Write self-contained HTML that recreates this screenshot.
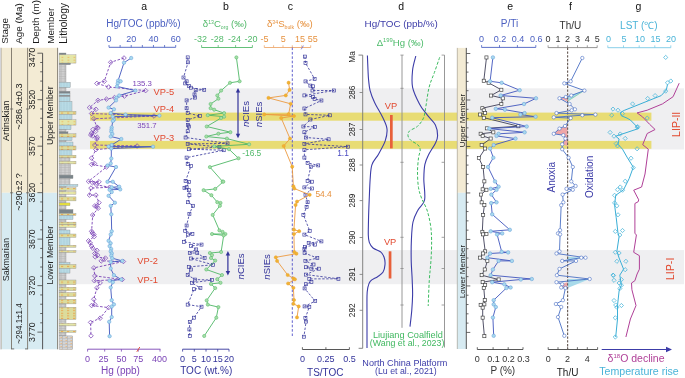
<!DOCTYPE html>
<html><head><meta charset="utf-8"><style>
html,body{margin:0;padding:0;background:#fff;}
body{width:685px;height:378px;overflow:hidden;}
svg{display:block;will-change:transform;}
</style></head><body>
<svg width="685" height="378" viewBox="0 0 685 378" font-family='"Liberation Sans", sans-serif'>
<rect x="0" y="0" width="685" height="378" fill="#fff" />
<rect x="58.5" y="88.3" width="625.5" height="61.2" fill="#efeff1" />
<rect x="58.5" y="250.1" width="625.5" height="34.1" fill="#efeff1" />
<rect x="90" y="112.6" width="561.4" height="8.1" fill="#e8dc74" />
<rect x="90" y="140.9" width="561.4" height="7.9" fill="#e8dc74" />
<rect x="0" y="47.8" width="57.7" height="145.0" fill="#f3ebd4" />
<rect x="0" y="192.8" width="57.7" height="156.5" fill="#d7ebf2" />
<rect x="0" y="47.8" width="1.1" height="301.5" fill="#d4d4d8" />
<line x1="1.5" y1="47.8" x2="1.5" y2="349.3" stroke="#b8b0a0" stroke-width="0.6" />
<line x1="11.5" y1="47.8" x2="11.5" y2="349.3" stroke="#7a7468" stroke-width="0.9" />
<line x1="27.6" y1="47.8" x2="27.6" y2="349.3" stroke="#7a7468" stroke-width="0.9" />
<line x1="57.6" y1="47.8" x2="57.6" y2="349.3" stroke="#7a7468" stroke-width="0.9" />
<line x1="42.6" y1="53.2" x2="42.6" y2="349.3" stroke="#444" stroke-width="0.9" />
<line x1="37.4" y1="53.2" x2="42.6" y2="53.2" stroke="#444" stroke-width="0.8" />
<line x1="40.2" y1="62.497" x2="42.6" y2="62.497" stroke="#444" stroke-width="0.8" />
<line x1="40.2" y1="71.79400000000001" x2="42.6" y2="71.79400000000001" stroke="#444" stroke-width="0.8" />
<line x1="40.2" y1="81.09100000000001" x2="42.6" y2="81.09100000000001" stroke="#444" stroke-width="0.8" />
<line x1="40.2" y1="90.388" x2="42.6" y2="90.388" stroke="#444" stroke-width="0.8" />
<line x1="37.4" y1="99.685" x2="42.6" y2="99.685" stroke="#444" stroke-width="0.8" />
<line x1="40.2" y1="108.982" x2="42.6" y2="108.982" stroke="#444" stroke-width="0.8" />
<line x1="40.2" y1="118.27900000000001" x2="42.6" y2="118.27900000000001" stroke="#444" stroke-width="0.8" />
<line x1="40.2" y1="127.57600000000001" x2="42.6" y2="127.57600000000001" stroke="#444" stroke-width="0.8" />
<line x1="40.2" y1="136.873" x2="42.6" y2="136.873" stroke="#444" stroke-width="0.8" />
<line x1="37.4" y1="146.17000000000002" x2="42.6" y2="146.17000000000002" stroke="#444" stroke-width="0.8" />
<line x1="40.2" y1="155.467" x2="42.6" y2="155.467" stroke="#444" stroke-width="0.8" />
<line x1="40.2" y1="164.764" x2="42.6" y2="164.764" stroke="#444" stroke-width="0.8" />
<line x1="40.2" y1="174.061" x2="42.6" y2="174.061" stroke="#444" stroke-width="0.8" />
<line x1="40.2" y1="183.358" x2="42.6" y2="183.358" stroke="#444" stroke-width="0.8" />
<line x1="37.4" y1="192.65500000000003" x2="42.6" y2="192.65500000000003" stroke="#444" stroke-width="0.8" />
<line x1="40.2" y1="201.952" x2="42.6" y2="201.952" stroke="#444" stroke-width="0.8" />
<line x1="40.2" y1="211.24900000000002" x2="42.6" y2="211.24900000000002" stroke="#444" stroke-width="0.8" />
<line x1="40.2" y1="220.546" x2="42.6" y2="220.546" stroke="#444" stroke-width="0.8" />
<line x1="40.2" y1="229.84300000000002" x2="42.6" y2="229.84300000000002" stroke="#444" stroke-width="0.8" />
<line x1="37.4" y1="239.14" x2="42.6" y2="239.14" stroke="#444" stroke-width="0.8" />
<line x1="40.2" y1="248.437" x2="42.6" y2="248.437" stroke="#444" stroke-width="0.8" />
<line x1="40.2" y1="257.73400000000004" x2="42.6" y2="257.73400000000004" stroke="#444" stroke-width="0.8" />
<line x1="40.2" y1="267.031" x2="42.6" y2="267.031" stroke="#444" stroke-width="0.8" />
<line x1="40.2" y1="276.32800000000003" x2="42.6" y2="276.32800000000003" stroke="#444" stroke-width="0.8" />
<line x1="37.4" y1="285.625" x2="42.6" y2="285.625" stroke="#444" stroke-width="0.8" />
<line x1="40.2" y1="294.922" x2="42.6" y2="294.922" stroke="#444" stroke-width="0.8" />
<line x1="40.2" y1="304.219" x2="42.6" y2="304.219" stroke="#444" stroke-width="0.8" />
<line x1="40.2" y1="313.516" x2="42.6" y2="313.516" stroke="#444" stroke-width="0.8" />
<line x1="40.2" y1="322.813" x2="42.6" y2="322.813" stroke="#444" stroke-width="0.8" />
<line x1="37.4" y1="332.11" x2="42.6" y2="332.11" stroke="#444" stroke-width="0.8" />
<line x1="10.0" y1="109.0" x2="13.2" y2="109.0" stroke="#555" stroke-width="0.7" />
<line x1="26.0" y1="109.0" x2="29.2" y2="109.0" stroke="#555" stroke-width="0.7" />
<line x1="10.0" y1="192.8" x2="13.2" y2="192.8" stroke="#555" stroke-width="0.7" />
<line x1="26.0" y1="192.8" x2="29.2" y2="192.8" stroke="#555" stroke-width="0.7" />
<line x1="11.5" y1="348.9" x2="14.2" y2="348.9" stroke="#555" stroke-width="0.8" />
<line x1="25.0" y1="348.9" x2="27.6" y2="348.9" stroke="#555" stroke-width="0.8" />
<text transform="translate(8.2,43.8) rotate(-90)" font-size="9.85" fill="#1a1a1a" text-anchor="start" >Stage</text>
<text transform="translate(22.0,43.8) rotate(-90)" font-size="9.85" fill="#1a1a1a" text-anchor="start" >Age (Ma)</text>
<text transform="translate(39.4,43.8) rotate(-90)" font-size="9.85" fill="#1a1a1a" text-anchor="start" >Depth (m)</text>
<text transform="translate(53.8,43.8) rotate(-90)" font-size="9.85" fill="#1a1a1a" text-anchor="start" >Member</text>
<text transform="translate(67.2,43.8) rotate(-90)" font-size="10.2" fill="#1a1a1a" text-anchor="start" >Lithology</text>
<text transform="translate(35.2,57.4) rotate(-90)" font-size="8.8" fill="#222" text-anchor="middle" >3470</text>
<text transform="translate(35.2,99.6) rotate(-90)" font-size="8.8" fill="#222" text-anchor="middle" >3520</text>
<text transform="translate(35.2,146.1) rotate(-90)" font-size="8.8" fill="#222" text-anchor="middle" >3570</text>
<text transform="translate(35.2,192.6) rotate(-90)" font-size="8.8" fill="#222" text-anchor="middle" >3620</text>
<text transform="translate(35.2,239.1) rotate(-90)" font-size="8.8" fill="#222" text-anchor="middle" >3670</text>
<text transform="translate(35.2,285.6) rotate(-90)" font-size="8.8" fill="#222" text-anchor="middle" >3720</text>
<text transform="translate(35.2,332.1) rotate(-90)" font-size="8.8" fill="#222" text-anchor="middle" >3770</text>
<text transform="translate(9.3,120.8) rotate(-90)" font-size="9.4" fill="#222" text-anchor="middle" textLength="40.5" lengthAdjust="spacingAndGlyphs">Artinskian</text>
<text transform="translate(9.3,259.7) rotate(-90)" font-size="9.4" fill="#222" text-anchor="middle" textLength="43.3" lengthAdjust="spacingAndGlyphs">Sakmarian</text>
<text transform="translate(22.0,106.5) rotate(-90)" font-size="9.2" fill="#222" text-anchor="middle" textLength="46.3" lengthAdjust="spacingAndGlyphs">~286.4±0.3</text>
<text transform="translate(22.0,191.9) rotate(-90)" font-size="9.2" fill="#222" text-anchor="middle" textLength="37.5" lengthAdjust="spacingAndGlyphs">~290±2 ?</text>
<text transform="translate(22.0,323.5) rotate(-90)" font-size="9.2" fill="#222" text-anchor="middle" textLength="40.4" lengthAdjust="spacingAndGlyphs">~294.1±1.4</text>
<text transform="translate(53.4,115.7) rotate(-90)" font-size="8.8" fill="#222" text-anchor="middle" >Upper Member</text>
<text transform="translate(53.4,255.2) rotate(-90)" font-size="8.8" fill="#222" text-anchor="middle" >Lower Member</text>
<defs><pattern id="pg" width="4" height="2.4" patternUnits="userSpaceOnUse"><rect width="4" height="2.4" fill="#cfcfcf"/><path d="M0,2.2H4M1,0V2.2" stroke="#a9a9a9" stroke-width="0.5"/></pattern><pattern id="po" width="6" height="2.6" patternUnits="userSpaceOnUse"><rect width="6" height="2.6" fill="#dcdc9c"/><rect x="1" y="0.7" width="2.2" height="1.1" fill="#e8ac58"/></pattern><pattern id="pc" width="5" height="3" patternUnits="userSpaceOnUse"><rect width="5" height="3" fill="#d4d4d4"/><path d="M0,2.8H5M2.5,0V2.8" stroke="#a8a8a8" stroke-width="0.5"/><rect x="0.6" y="1" width="1.2" height="0.9" fill="#eab070"/></pattern><pattern id="py" width="6" height="2.8" patternUnits="userSpaceOnUse"><rect width="6" height="2.8" fill="#e4e6a8"/><rect x="1.5" y="0.8" width="1.8" height="1" fill="#eebc6a"/></pattern><pattern id="pb" width="3" height="2" patternUnits="userSpaceOnUse"><rect width="3" height="2" fill="#b8dbe5"/><circle cx="1" cy="1" r="0.45" fill="#8ab4c2"/></pattern></defs>
<rect x="59.1" y="53.0" width="6.9" height="1.8" fill="#7b858a" stroke="#8a8a8a" stroke-width="0.35"/>
<rect x="59.1" y="54.8" width="16.9" height="8.3" fill="url(#py)" stroke="#8a8a8a" stroke-width="0.35"/>
<rect x="59.1" y="63.1" width="11.4" height="1.6" fill="#7b858a" stroke="#8a8a8a" stroke-width="0.35"/>
<rect x="59.1" y="64.7" width="6.9" height="17.5" fill="url(#pg)" stroke="#8a8a8a" stroke-width="0.35"/>
<rect x="59.1" y="82.2" width="11.2" height="5.6" fill="url(#pb)" stroke="#8a8a8a" stroke-width="0.35"/>
<rect x="59.1" y="87.8" width="6.9" height="3.5" fill="url(#pg)" stroke="#8a8a8a" stroke-width="0.35"/>
<rect x="59.1" y="91.3" width="10.9" height="2.0" fill="#7b858a" stroke="#8a8a8a" stroke-width="0.35"/>
<rect x="59.1" y="93.3" width="10.9" height="2.0" fill="url(#pb)" stroke="#8a8a8a" stroke-width="0.35"/>
<rect x="59.1" y="95.3" width="10.9" height="1.3" fill="#7b858a" stroke="#8a8a8a" stroke-width="0.35"/>
<rect x="59.1" y="96.6" width="10.9" height="4.7" fill="url(#pb)" stroke="#8a8a8a" stroke-width="0.35"/>
<rect x="59.1" y="101.3" width="12.9" height="9.9" fill="url(#pb)" stroke="#8a8a8a" stroke-width="0.35"/>
<rect x="59.1" y="111.2" width="16.9" height="3.3" fill="url(#po)" stroke="#8a8a8a" stroke-width="0.35"/>
<rect x="59.1" y="114.5" width="12.9" height="5.3" fill="url(#pb)" stroke="#8a8a8a" stroke-width="0.35"/>
<rect x="59.1" y="119.8" width="16.9" height="5.3" fill="url(#py)" stroke="#8a8a8a" stroke-width="0.35"/>
<rect x="59.1" y="125.1" width="11.9" height="4.7" fill="url(#pb)" stroke="#8a8a8a" stroke-width="0.35"/>
<rect x="59.1" y="129.8" width="6.9" height="2.0" fill="url(#pg)" stroke="#8a8a8a" stroke-width="0.35"/>
<rect x="59.1" y="131.8" width="8.9" height="2.0" fill="#7b858a" stroke="#8a8a8a" stroke-width="0.35"/>
<rect x="59.1" y="133.8" width="16.9" height="3.3" fill="url(#po)" stroke="#8a8a8a" stroke-width="0.35"/>
<rect x="59.1" y="137.1" width="12.9" height="3.6" fill="url(#pb)" stroke="#8a8a8a" stroke-width="0.35"/>
<rect x="59.1" y="140.7" width="6.9" height="1.3" fill="url(#pg)" stroke="#8a8a8a" stroke-width="0.35"/>
<rect x="59.1" y="142" width="13.9" height="4.0" fill="url(#pb)" stroke="#8a8a8a" stroke-width="0.35"/>
<rect x="59.1" y="146" width="16.9" height="4.0" fill="url(#po)" stroke="#8a8a8a" stroke-width="0.35"/>
<rect x="59.1" y="150" width="12.9" height="5.2" fill="url(#pb)" stroke="#8a8a8a" stroke-width="0.35"/>
<rect x="59.1" y="155.2" width="16.9" height="2.7" fill="url(#po)" stroke="#8a8a8a" stroke-width="0.35"/>
<rect x="59.1" y="157.9" width="10.9" height="3.3" fill="url(#pg)" stroke="#8a8a8a" stroke-width="0.35"/>
<rect x="59.1" y="161.2" width="16.9" height="2.7" fill="url(#py)" stroke="#8a8a8a" stroke-width="0.35"/>
<rect x="59.1" y="163.9" width="11.5" height="11.2" fill="url(#pg)" stroke="#8a8a8a" stroke-width="0.35"/>
<rect x="59.1" y="175.1" width="13.9" height="3.4" fill="#7b858a" stroke="#8a8a8a" stroke-width="0.35"/>
<rect x="59.1" y="178.5" width="10.9" height="5.9" fill="url(#pg)" stroke="#8a8a8a" stroke-width="0.35"/>
<rect x="59.1" y="184.4" width="18.8" height="2.0" fill="url(#pb)" stroke="#8a8a8a" stroke-width="0.35"/>
<rect x="59.1" y="186.4" width="6.9" height="1.3" fill="url(#pg)" stroke="#8a8a8a" stroke-width="0.35"/>
<rect x="59.1" y="187.7" width="16.9" height="2.6" fill="url(#po)" stroke="#8a8a8a" stroke-width="0.35"/>
<rect x="59.1" y="190.3" width="6.9" height="1.3" fill="url(#pg)" stroke="#8a8a8a" stroke-width="0.35"/>
<rect x="59.1" y="191.6" width="16.9" height="2.7" fill="url(#py)" stroke="#8a8a8a" stroke-width="0.35"/>
<rect x="59.1" y="194.3" width="6.9" height="2.6" fill="url(#pg)" stroke="#8a8a8a" stroke-width="0.35"/>
<rect x="59.1" y="196.9" width="16.9" height="4.0" fill="url(#po)" stroke="#8a8a8a" stroke-width="0.35"/>
<rect x="59.1" y="200.9" width="6.9" height="2.0" fill="url(#pg)" stroke="#8a8a8a" stroke-width="0.35"/>
<rect x="59.1" y="202.9" width="10.9" height="2.7" fill="#e6df3c" stroke="#8a8a8a" stroke-width="0.35"/>
<rect x="59.1" y="205.6" width="6.9" height="3.9" fill="url(#pg)" stroke="#8a8a8a" stroke-width="0.35"/>
<rect x="59.1" y="209.5" width="13.9" height="4.0" fill="#7b858a" stroke="#8a8a8a" stroke-width="0.35"/>
<rect x="59.1" y="213.5" width="16.9" height="2.0" fill="url(#po)" stroke="#8a8a8a" stroke-width="0.35"/>
<rect x="59.1" y="215.5" width="13.9" height="4.0" fill="url(#pb)" stroke="#8a8a8a" stroke-width="0.35"/>
<rect x="59.1" y="219.5" width="6.9" height="2.6" fill="url(#pg)" stroke="#8a8a8a" stroke-width="0.35"/>
<rect x="59.1" y="222.1" width="16.9" height="2.7" fill="url(#po)" stroke="#8a8a8a" stroke-width="0.35"/>
<rect x="59.1" y="224.8" width="16.9" height="2.6" fill="url(#py)" stroke="#8a8a8a" stroke-width="0.35"/>
<rect x="59.1" y="227.4" width="6.9" height="2.6" fill="url(#pg)" stroke="#8a8a8a" stroke-width="0.35"/>
<rect x="59.1" y="230" width="10.9" height="4.0" fill="url(#pb)" stroke="#8a8a8a" stroke-width="0.35"/>
<rect x="59.1" y="234" width="16.9" height="3.3" fill="url(#po)" stroke="#8a8a8a" stroke-width="0.35"/>
<rect x="59.1" y="237.3" width="10.9" height="8.0" fill="url(#pb)" stroke="#8a8a8a" stroke-width="0.35"/>
<rect x="59.1" y="245.3" width="16.9" height="2.0" fill="url(#po)" stroke="#8a8a8a" stroke-width="0.35"/>
<rect x="59.1" y="247.3" width="6.9" height="3.3" fill="url(#pg)" stroke="#8a8a8a" stroke-width="0.35"/>
<rect x="59.1" y="250.6" width="16.9" height="2.0" fill="url(#po)" stroke="#8a8a8a" stroke-width="0.35"/>
<rect x="59.1" y="252.6" width="6.9" height="9.9" fill="url(#pg)" stroke="#8a8a8a" stroke-width="0.35"/>
<rect x="59.1" y="262.5" width="10.9" height="2.0" fill="url(#pb)" stroke="#8a8a8a" stroke-width="0.35"/>
<rect x="59.1" y="264.5" width="16.9" height="4.0" fill="url(#po)" stroke="#8a8a8a" stroke-width="0.35"/>
<rect x="59.1" y="268.5" width="10.9" height="4.6" fill="url(#pb)" stroke="#8a8a8a" stroke-width="0.35"/>
<rect x="59.1" y="273.1" width="6.9" height="6.9" fill="url(#pg)" stroke="#8a8a8a" stroke-width="0.35"/>
<rect x="59.1" y="280" width="16.9" height="4.6" fill="url(#po)" stroke="#8a8a8a" stroke-width="0.35"/>
<rect x="59.1" y="284.6" width="6.9" height="2.7" fill="url(#pg)" stroke="#8a8a8a" stroke-width="0.35"/>
<rect x="59.1" y="287.3" width="16.9" height="3.3" fill="url(#po)" stroke="#8a8a8a" stroke-width="0.35"/>
<rect x="59.1" y="290.6" width="6.9" height="2.0" fill="url(#pg)" stroke="#8a8a8a" stroke-width="0.35"/>
<rect x="59.1" y="292.6" width="16.9" height="4.0" fill="url(#po)" stroke="#8a8a8a" stroke-width="0.35"/>
<rect x="59.1" y="296.6" width="6.9" height="2.6" fill="url(#pg)" stroke="#8a8a8a" stroke-width="0.35"/>
<rect x="59.1" y="299.2" width="16.9" height="4.7" fill="url(#po)" stroke="#8a8a8a" stroke-width="0.35"/>
<rect x="59.1" y="303.9" width="6.9" height="3.3" fill="url(#pg)" stroke="#8a8a8a" stroke-width="0.35"/>
<rect x="59.1" y="307.2" width="16.9" height="12.3" fill="url(#po)" stroke="#8a8a8a" stroke-width="0.35"/>
<rect x="59.1" y="319.5" width="6.9" height="3.8" fill="url(#pg)" stroke="#8a8a8a" stroke-width="0.35"/>
<rect x="59.1" y="323.3" width="16.9" height="2.6" fill="url(#py)" stroke="#8a8a8a" stroke-width="0.35"/>
<rect x="59.1" y="325.9" width="6.9" height="4.7" fill="url(#pg)" stroke="#8a8a8a" stroke-width="0.35"/>
<rect x="59.1" y="330.6" width="16.9" height="1.9" fill="url(#po)" stroke="#8a8a8a" stroke-width="0.35"/>
<rect x="59.1" y="332.5" width="6.9" height="3.4" fill="url(#pg)" stroke="#8a8a8a" stroke-width="0.35"/>
<rect x="59.1" y="335.9" width="13.5" height="13.6" fill="url(#pc)" stroke="#8a8a8a" stroke-width="0.35"/>
<text x="144.2" y="10.3" font-size="10.5" fill="#111" text-anchor="middle" >a</text>
<text x="106.3" y="27.4" font-size="10" fill="#4a5fc1" text-anchor="start" >Hg/TOC (ppb/%)</text>
<line x1="109" y1="47.3" x2="175.7" y2="47.3" stroke="#4a5fc1" stroke-width="0.9" />
<line x1="109.0" y1="47.3" x2="109.0" y2="45.0" stroke="#4a5fc1" stroke-width="0.8" />
<line x1="120.117" y1="47.3" x2="120.117" y2="45.0" stroke="#4a5fc1" stroke-width="0.8" />
<line x1="131.234" y1="47.3" x2="131.234" y2="45.0" stroke="#4a5fc1" stroke-width="0.8" />
<line x1="142.351" y1="47.3" x2="142.351" y2="45.0" stroke="#4a5fc1" stroke-width="0.8" />
<line x1="153.46800000000002" y1="47.3" x2="153.46800000000002" y2="45.0" stroke="#4a5fc1" stroke-width="0.8" />
<line x1="164.585" y1="47.3" x2="164.585" y2="45.0" stroke="#4a5fc1" stroke-width="0.8" />
<line x1="175.702" y1="47.3" x2="175.702" y2="45.0" stroke="#4a5fc1" stroke-width="0.8" />
<text x="109" y="42" font-size="9" fill="#4a5fc1" text-anchor="middle" >0</text>
<text x="131.2" y="42" font-size="9" fill="#4a5fc1" text-anchor="middle" >20</text>
<text x="153.5" y="42" font-size="9" fill="#4a5fc1" text-anchor="middle" >40</text>
<text x="175.7" y="42" font-size="9" fill="#4a5fc1" text-anchor="middle" >60</text>
<line x1="87.6" y1="349.2" x2="160.4" y2="349.2" stroke="#7b44b6" stroke-width="0.9" />
<line x1="87.6" y1="349.2" x2="87.6" y2="351.6" stroke="#7b44b6" stroke-width="0.8" />
<line x1="104.7" y1="349.2" x2="104.7" y2="351.6" stroke="#7b44b6" stroke-width="0.8" />
<line x1="121.4" y1="349.2" x2="121.4" y2="351.6" stroke="#7b44b6" stroke-width="0.8" />
<line x1="138.3" y1="349.2" x2="138.3" y2="351.6" stroke="#7b44b6" stroke-width="0.8" />
<line x1="160.0" y1="349.2" x2="160.0" y2="351.6" stroke="#7b44b6" stroke-width="0.8" />
<text x="87.6" y="361.6" font-size="9" fill="#7b44b6" text-anchor="middle" >0</text>
<text x="103.5" y="361.6" font-size="9" fill="#7b44b6" text-anchor="middle" >25</text>
<text x="121.4" y="361.6" font-size="9" fill="#7b44b6" text-anchor="middle" >50</text>
<text x="138.3" y="361.6" font-size="9" fill="#7b44b6" text-anchor="middle" >75</text>
<text x="159.5" y="361.6" font-size="9" fill="#7b44b6" text-anchor="middle" >400</text>
<line x1="136.8" y1="351.8" x2="139.8" y2="347.0" stroke="#e2492f" stroke-width="0.9" />
<text x="120.5" y="374.0" font-size="10" fill="#7b44b6" text-anchor="middle" >Hg (ppb)</text>
<polyline points="124.0,58.0 110.7,62.3 104.3,81.3 96.9,83.4 108.6,87.0 145.6,90.6 124.4,96.1 114.5,97.6 106.5,99.1 98.0,100.4 89.5,107.6 95.9,109.3 91.6,113.5 154.0,116.0 93.8,118.8 96.9,127.2 98.0,128.0 93.0,129.5 95.5,131.5 91.6,133.1 90.8,135.0 92.7,135.9 97.2,137.2 96.9,139.0 94.8,145.0 137.1,146.0 95.9,149.6 91.6,158.1 94.4,163.4 91.6,164.4 106.5,167.0 88.5,181.4 99.0,181.8 92.5,182.8 96.5,184.8 109.6,187.3 91.0,188.1 89.5,195.1 95.9,195.1 99.0,202.7 94.8,205.9 96.5,206.5 98.2,208.2 92.7,215.0 91.6,231.3 92.2,233.0 93.8,234.4 94.2,236.6 88.5,240.8 90.2,243.0 91.6,246.1 92.8,248.2 96.9,250.3 94.8,253.5 97.6,255.2 95.2,256.8 105.4,258.1 101.2,260.9 123.4,261.5 93.8,267.9 94.8,275.9 122.3,279.5 94.4,280.7 100.1,282.9 96.9,287.9 93.8,299.2 94.8,304.4 91.6,305.5 108.6,307.6 100.1,318.2 90.6,322.4 91.0,335.8" fill="none" stroke="#7b44b6" stroke-width="0.9" stroke-dasharray="2.6,1.6" stroke-linejoin="round" />
<polygon points="124.0,55.7 126.3,58.0 124.0,60.3 121.7,58.0" fill="none" stroke="#7b44b6" stroke-width="0.75"/>
<polygon points="110.7,60.0 113.0,62.3 110.7,64.6 108.4,62.3" fill="none" stroke="#7b44b6" stroke-width="0.75"/>
<polygon points="104.3,79.0 106.6,81.3 104.3,83.6 102.0,81.3" fill="none" stroke="#7b44b6" stroke-width="0.75"/>
<polygon points="96.9,81.1 99.2,83.4 96.9,85.7 94.6,83.4" fill="none" stroke="#7b44b6" stroke-width="0.75"/>
<polygon points="108.6,84.7 110.9,87.0 108.6,89.3 106.3,87.0" fill="none" stroke="#7b44b6" stroke-width="0.75"/>
<polygon points="145.6,88.3 147.9,90.6 145.6,92.9 143.3,90.6" fill="none" stroke="#7b44b6" stroke-width="0.75"/>
<polygon points="124.4,93.8 126.7,96.1 124.4,98.4 122.1,96.1" fill="none" stroke="#7b44b6" stroke-width="0.75"/>
<polygon points="114.5,95.3 116.8,97.6 114.5,99.9 112.2,97.6" fill="none" stroke="#7b44b6" stroke-width="0.75"/>
<polygon points="106.5,96.8 108.8,99.1 106.5,101.4 104.2,99.1" fill="none" stroke="#7b44b6" stroke-width="0.75"/>
<polygon points="98.0,98.1 100.3,100.4 98.0,102.7 95.7,100.4" fill="none" stroke="#7b44b6" stroke-width="0.75"/>
<polygon points="89.5,105.3 91.8,107.6 89.5,109.9 87.2,107.6" fill="none" stroke="#7b44b6" stroke-width="0.75"/>
<polygon points="95.9,107.0 98.2,109.3 95.9,111.6 93.6,109.3" fill="none" stroke="#7b44b6" stroke-width="0.75"/>
<polygon points="91.6,111.2 93.9,113.5 91.6,115.8 89.3,113.5" fill="none" stroke="#7b44b6" stroke-width="0.75"/>
<polygon points="154.0,113.7 156.3,116.0 154.0,118.3 151.7,116.0" fill="none" stroke="#7b44b6" stroke-width="0.75"/>
<polygon points="93.8,116.5 96.1,118.8 93.8,121.1 91.5,118.8" fill="none" stroke="#7b44b6" stroke-width="0.75"/>
<polygon points="96.9,124.9 99.2,127.2 96.9,129.5 94.6,127.2" fill="none" stroke="#7b44b6" stroke-width="0.75"/>
<polygon points="98.0,125.7 100.3,128.0 98.0,130.3 95.7,128.0" fill="none" stroke="#7b44b6" stroke-width="0.75"/>
<polygon points="93.0,127.2 95.3,129.5 93.0,131.8 90.7,129.5" fill="none" stroke="#7b44b6" stroke-width="0.75"/>
<polygon points="95.5,129.2 97.8,131.5 95.5,133.8 93.2,131.5" fill="none" stroke="#7b44b6" stroke-width="0.75"/>
<polygon points="91.6,130.8 93.9,133.1 91.6,135.4 89.3,133.1" fill="none" stroke="#7b44b6" stroke-width="0.75"/>
<polygon points="90.8,132.7 93.1,135.0 90.8,137.3 88.5,135.0" fill="none" stroke="#7b44b6" stroke-width="0.75"/>
<polygon points="92.7,133.6 95.0,135.9 92.7,138.2 90.4,135.9" fill="none" stroke="#7b44b6" stroke-width="0.75"/>
<polygon points="97.2,134.9 99.5,137.2 97.2,139.5 94.9,137.2" fill="none" stroke="#7b44b6" stroke-width="0.75"/>
<polygon points="96.9,136.7 99.2,139.0 96.9,141.3 94.6,139.0" fill="none" stroke="#7b44b6" stroke-width="0.75"/>
<polygon points="94.8,142.7 97.1,145.0 94.8,147.3 92.5,145.0" fill="none" stroke="#7b44b6" stroke-width="0.75"/>
<polygon points="137.1,143.7 139.4,146.0 137.1,148.3 134.8,146.0" fill="none" stroke="#7b44b6" stroke-width="0.75"/>
<polygon points="95.9,147.3 98.2,149.6 95.9,151.9 93.6,149.6" fill="none" stroke="#7b44b6" stroke-width="0.75"/>
<polygon points="91.6,155.8 93.9,158.1 91.6,160.4 89.3,158.1" fill="none" stroke="#7b44b6" stroke-width="0.75"/>
<polygon points="94.4,161.1 96.7,163.4 94.4,165.7 92.1,163.4" fill="none" stroke="#7b44b6" stroke-width="0.75"/>
<polygon points="91.6,162.1 93.9,164.4 91.6,166.7 89.3,164.4" fill="none" stroke="#7b44b6" stroke-width="0.75"/>
<polygon points="106.5,164.7 108.8,167.0 106.5,169.3 104.2,167.0" fill="none" stroke="#7b44b6" stroke-width="0.75"/>
<polygon points="88.5,179.1 90.8,181.4 88.5,183.7 86.2,181.4" fill="none" stroke="#7b44b6" stroke-width="0.75"/>
<polygon points="99.0,179.5 101.3,181.8 99.0,184.1 96.7,181.8" fill="none" stroke="#7b44b6" stroke-width="0.75"/>
<polygon points="92.5,180.5 94.8,182.8 92.5,185.1 90.2,182.8" fill="none" stroke="#7b44b6" stroke-width="0.75"/>
<polygon points="96.5,182.5 98.8,184.8 96.5,187.1 94.2,184.8" fill="none" stroke="#7b44b6" stroke-width="0.75"/>
<polygon points="109.6,185.0 111.9,187.3 109.6,189.6 107.3,187.3" fill="none" stroke="#7b44b6" stroke-width="0.75"/>
<polygon points="91.0,185.8 93.3,188.1 91.0,190.4 88.7,188.1" fill="none" stroke="#7b44b6" stroke-width="0.75"/>
<polygon points="89.5,192.8 91.8,195.1 89.5,197.4 87.2,195.1" fill="none" stroke="#7b44b6" stroke-width="0.75"/>
<polygon points="95.9,192.8 98.2,195.1 95.9,197.4 93.6,195.1" fill="none" stroke="#7b44b6" stroke-width="0.75"/>
<polygon points="99.0,200.4 101.3,202.7 99.0,205.0 96.7,202.7" fill="none" stroke="#7b44b6" stroke-width="0.75"/>
<polygon points="94.8,203.6 97.1,205.9 94.8,208.2 92.5,205.9" fill="none" stroke="#7b44b6" stroke-width="0.75"/>
<polygon points="96.5,204.2 98.8,206.5 96.5,208.8 94.2,206.5" fill="none" stroke="#7b44b6" stroke-width="0.75"/>
<polygon points="98.2,205.9 100.5,208.2 98.2,210.5 95.9,208.2" fill="none" stroke="#7b44b6" stroke-width="0.75"/>
<polygon points="92.7,212.7 95.0,215.0 92.7,217.3 90.4,215.0" fill="none" stroke="#7b44b6" stroke-width="0.75"/>
<polygon points="91.6,229.0 93.9,231.3 91.6,233.6 89.3,231.3" fill="none" stroke="#7b44b6" stroke-width="0.75"/>
<polygon points="92.2,230.7 94.5,233.0 92.2,235.3 89.9,233.0" fill="none" stroke="#7b44b6" stroke-width="0.75"/>
<polygon points="93.8,232.1 96.1,234.4 93.8,236.7 91.5,234.4" fill="none" stroke="#7b44b6" stroke-width="0.75"/>
<polygon points="94.2,234.3 96.5,236.6 94.2,238.9 91.9,236.6" fill="none" stroke="#7b44b6" stroke-width="0.75"/>
<polygon points="88.5,238.5 90.8,240.8 88.5,243.1 86.2,240.8" fill="none" stroke="#7b44b6" stroke-width="0.75"/>
<polygon points="90.2,240.7 92.5,243.0 90.2,245.3 87.9,243.0" fill="none" stroke="#7b44b6" stroke-width="0.75"/>
<polygon points="91.6,243.8 93.9,246.1 91.6,248.4 89.3,246.1" fill="none" stroke="#7b44b6" stroke-width="0.75"/>
<polygon points="92.8,245.9 95.1,248.2 92.8,250.5 90.5,248.2" fill="none" stroke="#7b44b6" stroke-width="0.75"/>
<polygon points="96.9,248.0 99.2,250.3 96.9,252.6 94.6,250.3" fill="none" stroke="#7b44b6" stroke-width="0.75"/>
<polygon points="94.8,251.2 97.1,253.5 94.8,255.8 92.5,253.5" fill="none" stroke="#7b44b6" stroke-width="0.75"/>
<polygon points="97.6,252.9 99.9,255.2 97.6,257.5 95.3,255.2" fill="none" stroke="#7b44b6" stroke-width="0.75"/>
<polygon points="95.2,254.5 97.5,256.8 95.2,259.1 92.9,256.8" fill="none" stroke="#7b44b6" stroke-width="0.75"/>
<polygon points="105.4,255.8 107.7,258.1 105.4,260.4 103.1,258.1" fill="none" stroke="#7b44b6" stroke-width="0.75"/>
<polygon points="101.2,258.6 103.5,260.9 101.2,263.2 98.9,260.9" fill="none" stroke="#7b44b6" stroke-width="0.75"/>
<polygon points="123.4,259.2 125.7,261.5 123.4,263.8 121.1,261.5" fill="none" stroke="#7b44b6" stroke-width="0.75"/>
<polygon points="93.8,265.6 96.1,267.9 93.8,270.2 91.5,267.9" fill="none" stroke="#7b44b6" stroke-width="0.75"/>
<polygon points="94.8,273.6 97.1,275.9 94.8,278.2 92.5,275.9" fill="none" stroke="#7b44b6" stroke-width="0.75"/>
<polygon points="122.3,277.2 124.6,279.5 122.3,281.8 120.0,279.5" fill="none" stroke="#7b44b6" stroke-width="0.75"/>
<polygon points="94.4,278.4 96.7,280.7 94.4,283.0 92.1,280.7" fill="none" stroke="#7b44b6" stroke-width="0.75"/>
<polygon points="100.1,280.6 102.4,282.9 100.1,285.2 97.8,282.9" fill="none" stroke="#7b44b6" stroke-width="0.75"/>
<polygon points="96.9,285.6 99.2,287.9 96.9,290.2 94.6,287.9" fill="none" stroke="#7b44b6" stroke-width="0.75"/>
<polygon points="93.8,296.9 96.1,299.2 93.8,301.5 91.5,299.2" fill="none" stroke="#7b44b6" stroke-width="0.75"/>
<polygon points="94.8,302.1 97.1,304.4 94.8,306.7 92.5,304.4" fill="none" stroke="#7b44b6" stroke-width="0.75"/>
<polygon points="91.6,303.2 93.9,305.5 91.6,307.8 89.3,305.5" fill="none" stroke="#7b44b6" stroke-width="0.75"/>
<polygon points="108.6,305.3 110.9,307.6 108.6,309.9 106.3,307.6" fill="none" stroke="#7b44b6" stroke-width="0.75"/>
<polygon points="100.1,315.9 102.4,318.2 100.1,320.5 97.8,318.2" fill="none" stroke="#7b44b6" stroke-width="0.75"/>
<polygon points="90.6,320.1 92.9,322.4 90.6,324.7 88.3,322.4" fill="none" stroke="#7b44b6" stroke-width="0.75"/>
<polygon points="91.0,333.5 93.3,335.8 91.0,338.1 88.7,335.8" fill="none" stroke="#7b44b6" stroke-width="0.75"/>
<polyline points="131.2,58.0 124.0,62.7 118.1,80.7 120.6,81.3 117.7,83.4 117.0,86.4 135.4,90.6 119.2,95.5 116.4,97.6 116.0,100.4 108.6,107.6 113.9,109.3 110.7,113.1 125.5,114.6 159.4,115.6 112.8,116.7 113.9,119.8 112.8,121.0 111.7,127.4 111.5,129.5 111.3,131.6 112.3,134.0 110.7,136.5 121.3,139.0 111.7,145.0 108.6,146.5 153.0,146.7 111.3,148.6 111.3,158.5 110.7,163.4 107.5,165.5 116.0,167.0 107.5,181.8 112.8,181.8 119.2,186.7 111.7,187.3 120.2,189.4 109.6,189.8 111.7,192.0 108.6,195.8 114.9,202.7 110.7,205.9 111.3,214.3 111.7,231.3 110.7,234.4 108.6,240.8 110.6,243.2 109.6,246.1 111.2,249.0 110.7,251.4 111.8,253.4 111.3,255.6 112.2,258.2 122.3,260.9 110.7,262.0 110.7,268.5 113.9,275.2 121.3,279.5 109.6,280.7 112.8,282.2 110.7,287.5 111.7,300.2 113.9,304.4 111.7,306.6 111.7,317.1 109.2,321.8 109.6,336.2" fill="none" stroke="#3f55bd" stroke-width="0.9"  stroke-linejoin="round" />
<circle cx="131.2" cy="58.0" r="1.7" fill="#a9dbef" stroke="#6fa6dc" stroke-width="0.6"/>
<circle cx="124.0" cy="62.7" r="1.7" fill="#a9dbef" stroke="#6fa6dc" stroke-width="0.6"/>
<circle cx="118.1" cy="80.7" r="1.7" fill="#a9dbef" stroke="#6fa6dc" stroke-width="0.6"/>
<circle cx="120.6" cy="81.3" r="1.7" fill="#a9dbef" stroke="#6fa6dc" stroke-width="0.6"/>
<circle cx="117.7" cy="83.4" r="1.7" fill="#a9dbef" stroke="#6fa6dc" stroke-width="0.6"/>
<circle cx="117.0" cy="86.4" r="1.7" fill="#a9dbef" stroke="#6fa6dc" stroke-width="0.6"/>
<circle cx="135.4" cy="90.6" r="1.7" fill="#a9dbef" stroke="#6fa6dc" stroke-width="0.6"/>
<circle cx="119.2" cy="95.5" r="1.7" fill="#a9dbef" stroke="#6fa6dc" stroke-width="0.6"/>
<circle cx="116.4" cy="97.6" r="1.7" fill="#a9dbef" stroke="#6fa6dc" stroke-width="0.6"/>
<circle cx="116.0" cy="100.4" r="1.7" fill="#a9dbef" stroke="#6fa6dc" stroke-width="0.6"/>
<circle cx="108.6" cy="107.6" r="1.7" fill="#a9dbef" stroke="#6fa6dc" stroke-width="0.6"/>
<circle cx="113.9" cy="109.3" r="1.7" fill="#a9dbef" stroke="#6fa6dc" stroke-width="0.6"/>
<circle cx="110.7" cy="113.1" r="1.7" fill="#a9dbef" stroke="#6fa6dc" stroke-width="0.6"/>
<circle cx="125.5" cy="114.6" r="1.7" fill="#a9dbef" stroke="#6fa6dc" stroke-width="0.6"/>
<circle cx="159.4" cy="115.6" r="1.7" fill="#a9dbef" stroke="#6fa6dc" stroke-width="0.6"/>
<circle cx="112.8" cy="116.7" r="1.7" fill="#a9dbef" stroke="#6fa6dc" stroke-width="0.6"/>
<circle cx="113.9" cy="119.8" r="1.7" fill="#a9dbef" stroke="#6fa6dc" stroke-width="0.6"/>
<circle cx="112.8" cy="121.0" r="1.7" fill="#a9dbef" stroke="#6fa6dc" stroke-width="0.6"/>
<circle cx="111.7" cy="127.4" r="1.7" fill="#a9dbef" stroke="#6fa6dc" stroke-width="0.6"/>
<circle cx="111.5" cy="129.5" r="1.7" fill="#a9dbef" stroke="#6fa6dc" stroke-width="0.6"/>
<circle cx="111.3" cy="131.6" r="1.7" fill="#a9dbef" stroke="#6fa6dc" stroke-width="0.6"/>
<circle cx="112.3" cy="134.0" r="1.7" fill="#a9dbef" stroke="#6fa6dc" stroke-width="0.6"/>
<circle cx="110.7" cy="136.5" r="1.7" fill="#a9dbef" stroke="#6fa6dc" stroke-width="0.6"/>
<circle cx="121.3" cy="139.0" r="1.7" fill="#a9dbef" stroke="#6fa6dc" stroke-width="0.6"/>
<circle cx="111.7" cy="145.0" r="1.7" fill="#a9dbef" stroke="#6fa6dc" stroke-width="0.6"/>
<circle cx="108.6" cy="146.5" r="1.7" fill="#a9dbef" stroke="#6fa6dc" stroke-width="0.6"/>
<circle cx="153.0" cy="146.7" r="1.7" fill="#a9dbef" stroke="#6fa6dc" stroke-width="0.6"/>
<circle cx="111.3" cy="148.6" r="1.7" fill="#a9dbef" stroke="#6fa6dc" stroke-width="0.6"/>
<circle cx="111.3" cy="158.5" r="1.7" fill="#a9dbef" stroke="#6fa6dc" stroke-width="0.6"/>
<circle cx="110.7" cy="163.4" r="1.7" fill="#a9dbef" stroke="#6fa6dc" stroke-width="0.6"/>
<circle cx="107.5" cy="165.5" r="1.7" fill="#a9dbef" stroke="#6fa6dc" stroke-width="0.6"/>
<circle cx="116.0" cy="167.0" r="1.7" fill="#a9dbef" stroke="#6fa6dc" stroke-width="0.6"/>
<circle cx="107.5" cy="181.8" r="1.7" fill="#a9dbef" stroke="#6fa6dc" stroke-width="0.6"/>
<circle cx="112.8" cy="181.8" r="1.7" fill="#a9dbef" stroke="#6fa6dc" stroke-width="0.6"/>
<circle cx="119.2" cy="186.7" r="1.7" fill="#a9dbef" stroke="#6fa6dc" stroke-width="0.6"/>
<circle cx="111.7" cy="187.3" r="1.7" fill="#a9dbef" stroke="#6fa6dc" stroke-width="0.6"/>
<circle cx="120.2" cy="189.4" r="1.7" fill="#a9dbef" stroke="#6fa6dc" stroke-width="0.6"/>
<circle cx="109.6" cy="189.8" r="1.7" fill="#a9dbef" stroke="#6fa6dc" stroke-width="0.6"/>
<circle cx="111.7" cy="192.0" r="1.7" fill="#a9dbef" stroke="#6fa6dc" stroke-width="0.6"/>
<circle cx="108.6" cy="195.8" r="1.7" fill="#a9dbef" stroke="#6fa6dc" stroke-width="0.6"/>
<circle cx="114.9" cy="202.7" r="1.7" fill="#a9dbef" stroke="#6fa6dc" stroke-width="0.6"/>
<circle cx="110.7" cy="205.9" r="1.7" fill="#a9dbef" stroke="#6fa6dc" stroke-width="0.6"/>
<circle cx="111.3" cy="214.3" r="1.7" fill="#a9dbef" stroke="#6fa6dc" stroke-width="0.6"/>
<circle cx="111.7" cy="231.3" r="1.7" fill="#a9dbef" stroke="#6fa6dc" stroke-width="0.6"/>
<circle cx="110.7" cy="234.4" r="1.7" fill="#a9dbef" stroke="#6fa6dc" stroke-width="0.6"/>
<circle cx="108.6" cy="240.8" r="1.7" fill="#a9dbef" stroke="#6fa6dc" stroke-width="0.6"/>
<circle cx="110.6" cy="243.2" r="1.7" fill="#a9dbef" stroke="#6fa6dc" stroke-width="0.6"/>
<circle cx="109.6" cy="246.1" r="1.7" fill="#a9dbef" stroke="#6fa6dc" stroke-width="0.6"/>
<circle cx="111.2" cy="249.0" r="1.7" fill="#a9dbef" stroke="#6fa6dc" stroke-width="0.6"/>
<circle cx="110.7" cy="251.4" r="1.7" fill="#a9dbef" stroke="#6fa6dc" stroke-width="0.6"/>
<circle cx="111.8" cy="253.4" r="1.7" fill="#a9dbef" stroke="#6fa6dc" stroke-width="0.6"/>
<circle cx="111.3" cy="255.6" r="1.7" fill="#a9dbef" stroke="#6fa6dc" stroke-width="0.6"/>
<circle cx="112.2" cy="258.2" r="1.7" fill="#a9dbef" stroke="#6fa6dc" stroke-width="0.6"/>
<circle cx="122.3" cy="260.9" r="1.7" fill="#a9dbef" stroke="#6fa6dc" stroke-width="0.6"/>
<circle cx="110.7" cy="262.0" r="1.7" fill="#a9dbef" stroke="#6fa6dc" stroke-width="0.6"/>
<circle cx="110.7" cy="268.5" r="1.7" fill="#a9dbef" stroke="#6fa6dc" stroke-width="0.6"/>
<circle cx="113.9" cy="275.2" r="1.7" fill="#a9dbef" stroke="#6fa6dc" stroke-width="0.6"/>
<circle cx="121.3" cy="279.5" r="1.7" fill="#a9dbef" stroke="#6fa6dc" stroke-width="0.6"/>
<circle cx="109.6" cy="280.7" r="1.7" fill="#a9dbef" stroke="#6fa6dc" stroke-width="0.6"/>
<circle cx="112.8" cy="282.2" r="1.7" fill="#a9dbef" stroke="#6fa6dc" stroke-width="0.6"/>
<circle cx="110.7" cy="287.5" r="1.7" fill="#a9dbef" stroke="#6fa6dc" stroke-width="0.6"/>
<circle cx="111.7" cy="300.2" r="1.7" fill="#a9dbef" stroke="#6fa6dc" stroke-width="0.6"/>
<circle cx="113.9" cy="304.4" r="1.7" fill="#a9dbef" stroke="#6fa6dc" stroke-width="0.6"/>
<circle cx="111.7" cy="306.6" r="1.7" fill="#a9dbef" stroke="#6fa6dc" stroke-width="0.6"/>
<circle cx="111.7" cy="317.1" r="1.7" fill="#a9dbef" stroke="#6fa6dc" stroke-width="0.6"/>
<circle cx="109.2" cy="321.8" r="1.7" fill="#a9dbef" stroke="#6fa6dc" stroke-width="0.6"/>
<circle cx="109.6" cy="336.2" r="1.7" fill="#a9dbef" stroke="#6fa6dc" stroke-width="0.6"/>
<text x="132.4" y="86.4" font-size="7.8" fill="#7b44b6" text-anchor="start" >135.3</text>
<text x="137.2" y="127.6" font-size="7.8" fill="#7b44b6" text-anchor="start" >351.7</text>
<text x="153.6" y="94.5" font-size="9.3" fill="#e2492f" text-anchor="start" >VP-5</text>
<text x="153.6" y="112.1" font-size="9.3" fill="#e2492f" text-anchor="start" >VP-4</text>
<text x="153.6" y="141.2" font-size="9.3" fill="#e2492f" text-anchor="start" >VP-3</text>
<text x="137.3" y="264.3" font-size="9.3" fill="#e2492f" text-anchor="start" >VP-2</text>
<text x="137.3" y="283.0" font-size="9.3" fill="#e2492f" text-anchor="start" >VP-1</text>
<text x="225.8" y="10.3" font-size="10.5" fill="#111" text-anchor="middle" >b</text>
<text x="202.8" y="27.4" font-size="9.6" fill="#52b96a">δ<tspan font-size="5.2" dy="-3.8">13</tspan><tspan dy="3.8">C</tspan><tspan font-size="5.2" dy="1.5">org</tspan><tspan dy="-1.5"> (‰)</tspan></text>
<line x1="201.6" y1="47.5" x2="252.4" y2="47.5" stroke="#52b96a" stroke-width="0.9" />
<line x1="201.6" y1="47.5" x2="201.6" y2="45.1" stroke="#52b96a" stroke-width="0.8" />
<line x1="218.2" y1="47.5" x2="218.2" y2="45.1" stroke="#52b96a" stroke-width="0.8" />
<line x1="235.6" y1="47.5" x2="235.6" y2="45.1" stroke="#52b96a" stroke-width="0.8" />
<line x1="252.4" y1="47.5" x2="252.4" y2="45.1" stroke="#52b96a" stroke-width="0.8" />
<text x="200.5" y="42" font-size="9" fill="#52b96a" text-anchor="middle" >-32</text>
<text x="217.3" y="42" font-size="9" fill="#52b96a" text-anchor="middle" >-28</text>
<text x="234.4" y="42" font-size="9" fill="#52b96a" text-anchor="middle" >-24</text>
<text x="251" y="42" font-size="9" fill="#52b96a" text-anchor="middle" >-20</text>
<line x1="182.6" y1="349.2" x2="229" y2="349.2" stroke="#33339a" stroke-width="0.9" />
<line x1="182.6" y1="349.2" x2="182.6" y2="351.6" stroke="#33339a" stroke-width="0.8" />
<line x1="194.3" y1="349.2" x2="194.3" y2="351.6" stroke="#33339a" stroke-width="0.8" />
<line x1="206" y1="349.2" x2="206" y2="351.6" stroke="#33339a" stroke-width="0.8" />
<line x1="217.7" y1="349.2" x2="217.7" y2="351.6" stroke="#33339a" stroke-width="0.8" />
<line x1="229" y1="349.2" x2="229" y2="351.6" stroke="#33339a" stroke-width="0.8" />
<text x="182.6" y="361.6" font-size="9" fill="#33339a" text-anchor="middle" >0</text>
<text x="194.3" y="361.6" font-size="9" fill="#33339a" text-anchor="middle" >5</text>
<text x="206" y="361.6" font-size="9" fill="#33339a" text-anchor="middle" >10</text>
<text x="217.7" y="361.6" font-size="9" fill="#33339a" text-anchor="middle" >15</text>
<text x="229" y="361.6" font-size="9" fill="#33339a" text-anchor="middle" >20</text>
<text x="206.2" y="374.0" font-size="10" fill="#33339a" text-anchor="middle" >TOC (wt.%)</text>
<polyline points="187.7,57.4 188.1,62.3 183.5,77.5 186.6,81.3 185.2,83.4 188.8,86.0 190.9,87.7 204.2,89.8 195.7,90.2 194.5,94.4 195.1,97.6 186.6,100.4 186.6,108.2 187.7,113.1 200.0,116.0 187.7,119.8 188.1,125.1 188.8,126.5 187.7,131.2 185.6,137.5 227.5,143.4 187.7,143.9 219.4,147.0 188.8,149.2 223.7,150.2 186.6,157.6 187.7,164.0 190.9,166.1 185.6,180.9 188.8,182.0 186.6,187.2 184.5,188.0 188.8,190.2 189.4,195.2 188.1,202.2 193.0,205.8 189.4,213.9 186.6,225.5 185.2,230.8 192.4,234.0 188.1,234.6 183.9,241.8 201.5,244.6 190.9,246.0 196.2,249.4 189.8,253.0 197.2,253.0 204.6,258.0 190.9,258.5 213.1,264.8 188.8,266.9 190.9,269.5 187.7,275.0 195.1,279.6 212.0,280.0 191.9,282.8 200.4,288.1 194.0,289.2 187.7,304.6 201.5,306.7 194.0,317.7 189.8,322.0 189.4,329.4 189.8,336.0" fill="none" stroke="#33339a" stroke-width="0.8" stroke-dasharray="2.4,1.6" stroke-linejoin="round" />
<rect x="186.2" y="55.9" width="3.0" height="3.0" fill="none" stroke="#33339a" stroke-width="0.65"/>
<rect x="186.6" y="60.8" width="3.0" height="3.0" fill="none" stroke="#33339a" stroke-width="0.65"/>
<rect x="182.0" y="76.0" width="3.0" height="3.0" fill="none" stroke="#33339a" stroke-width="0.65"/>
<rect x="185.1" y="79.8" width="3.0" height="3.0" fill="none" stroke="#33339a" stroke-width="0.65"/>
<rect x="183.7" y="81.9" width="3.0" height="3.0" fill="none" stroke="#33339a" stroke-width="0.65"/>
<rect x="187.3" y="84.5" width="3.0" height="3.0" fill="none" stroke="#33339a" stroke-width="0.65"/>
<rect x="189.4" y="86.2" width="3.0" height="3.0" fill="none" stroke="#33339a" stroke-width="0.65"/>
<rect x="202.7" y="88.3" width="3.0" height="3.0" fill="none" stroke="#33339a" stroke-width="0.65"/>
<rect x="194.2" y="88.7" width="3.0" height="3.0" fill="none" stroke="#33339a" stroke-width="0.65"/>
<rect x="193.0" y="92.9" width="3.0" height="3.0" fill="none" stroke="#33339a" stroke-width="0.65"/>
<rect x="193.6" y="96.1" width="3.0" height="3.0" fill="none" stroke="#33339a" stroke-width="0.65"/>
<rect x="185.1" y="98.9" width="3.0" height="3.0" fill="none" stroke="#33339a" stroke-width="0.65"/>
<rect x="185.1" y="106.7" width="3.0" height="3.0" fill="none" stroke="#33339a" stroke-width="0.65"/>
<rect x="186.2" y="111.6" width="3.0" height="3.0" fill="none" stroke="#33339a" stroke-width="0.65"/>
<rect x="198.5" y="114.5" width="3.0" height="3.0" fill="none" stroke="#33339a" stroke-width="0.65"/>
<rect x="186.2" y="118.3" width="3.0" height="3.0" fill="none" stroke="#33339a" stroke-width="0.65"/>
<rect x="186.6" y="123.6" width="3.0" height="3.0" fill="none" stroke="#33339a" stroke-width="0.65"/>
<rect x="187.3" y="125.0" width="3.0" height="3.0" fill="none" stroke="#33339a" stroke-width="0.65"/>
<rect x="186.2" y="129.7" width="3.0" height="3.0" fill="none" stroke="#33339a" stroke-width="0.65"/>
<rect x="184.1" y="136.0" width="3.0" height="3.0" fill="none" stroke="#33339a" stroke-width="0.65"/>
<rect x="226.0" y="141.9" width="3.0" height="3.0" fill="none" stroke="#33339a" stroke-width="0.65"/>
<rect x="186.2" y="142.4" width="3.0" height="3.0" fill="none" stroke="#33339a" stroke-width="0.65"/>
<rect x="217.9" y="145.5" width="3.0" height="3.0" fill="none" stroke="#33339a" stroke-width="0.65"/>
<rect x="187.3" y="147.7" width="3.0" height="3.0" fill="none" stroke="#33339a" stroke-width="0.65"/>
<rect x="222.2" y="148.7" width="3.0" height="3.0" fill="none" stroke="#33339a" stroke-width="0.65"/>
<rect x="185.1" y="156.1" width="3.0" height="3.0" fill="none" stroke="#33339a" stroke-width="0.65"/>
<rect x="186.2" y="162.5" width="3.0" height="3.0" fill="none" stroke="#33339a" stroke-width="0.65"/>
<rect x="189.4" y="164.6" width="3.0" height="3.0" fill="none" stroke="#33339a" stroke-width="0.65"/>
<rect x="184.1" y="179.4" width="3.0" height="3.0" fill="none" stroke="#33339a" stroke-width="0.65"/>
<rect x="187.3" y="180.5" width="3.0" height="3.0" fill="none" stroke="#33339a" stroke-width="0.65"/>
<rect x="185.1" y="185.7" width="3.0" height="3.0" fill="none" stroke="#33339a" stroke-width="0.65"/>
<rect x="183.0" y="186.5" width="3.0" height="3.0" fill="none" stroke="#33339a" stroke-width="0.65"/>
<rect x="187.3" y="188.7" width="3.0" height="3.0" fill="none" stroke="#33339a" stroke-width="0.65"/>
<rect x="187.9" y="193.7" width="3.0" height="3.0" fill="none" stroke="#33339a" stroke-width="0.65"/>
<rect x="186.6" y="200.7" width="3.0" height="3.0" fill="none" stroke="#33339a" stroke-width="0.65"/>
<rect x="191.5" y="204.3" width="3.0" height="3.0" fill="none" stroke="#33339a" stroke-width="0.65"/>
<rect x="187.9" y="212.4" width="3.0" height="3.0" fill="none" stroke="#33339a" stroke-width="0.65"/>
<rect x="185.1" y="224.0" width="3.0" height="3.0" fill="none" stroke="#33339a" stroke-width="0.65"/>
<rect x="183.7" y="229.3" width="3.0" height="3.0" fill="none" stroke="#33339a" stroke-width="0.65"/>
<rect x="190.9" y="232.5" width="3.0" height="3.0" fill="none" stroke="#33339a" stroke-width="0.65"/>
<rect x="186.6" y="233.1" width="3.0" height="3.0" fill="none" stroke="#33339a" stroke-width="0.65"/>
<rect x="182.4" y="240.3" width="3.0" height="3.0" fill="none" stroke="#33339a" stroke-width="0.65"/>
<rect x="200.0" y="243.1" width="3.0" height="3.0" fill="none" stroke="#33339a" stroke-width="0.65"/>
<rect x="189.4" y="244.5" width="3.0" height="3.0" fill="none" stroke="#33339a" stroke-width="0.65"/>
<rect x="194.7" y="247.9" width="3.0" height="3.0" fill="none" stroke="#33339a" stroke-width="0.65"/>
<rect x="188.3" y="251.5" width="3.0" height="3.0" fill="none" stroke="#33339a" stroke-width="0.65"/>
<rect x="195.7" y="251.5" width="3.0" height="3.0" fill="none" stroke="#33339a" stroke-width="0.65"/>
<rect x="203.1" y="256.5" width="3.0" height="3.0" fill="none" stroke="#33339a" stroke-width="0.65"/>
<rect x="189.4" y="257.0" width="3.0" height="3.0" fill="none" stroke="#33339a" stroke-width="0.65"/>
<rect x="211.6" y="263.3" width="3.0" height="3.0" fill="none" stroke="#33339a" stroke-width="0.65"/>
<rect x="187.3" y="265.4" width="3.0" height="3.0" fill="none" stroke="#33339a" stroke-width="0.65"/>
<rect x="189.4" y="268.0" width="3.0" height="3.0" fill="none" stroke="#33339a" stroke-width="0.65"/>
<rect x="186.2" y="273.5" width="3.0" height="3.0" fill="none" stroke="#33339a" stroke-width="0.65"/>
<rect x="193.6" y="278.1" width="3.0" height="3.0" fill="none" stroke="#33339a" stroke-width="0.65"/>
<rect x="210.5" y="278.5" width="3.0" height="3.0" fill="none" stroke="#33339a" stroke-width="0.65"/>
<rect x="190.4" y="281.3" width="3.0" height="3.0" fill="none" stroke="#33339a" stroke-width="0.65"/>
<rect x="198.9" y="286.6" width="3.0" height="3.0" fill="none" stroke="#33339a" stroke-width="0.65"/>
<rect x="192.5" y="287.7" width="3.0" height="3.0" fill="none" stroke="#33339a" stroke-width="0.65"/>
<rect x="186.2" y="303.1" width="3.0" height="3.0" fill="none" stroke="#33339a" stroke-width="0.65"/>
<rect x="200.0" y="305.2" width="3.0" height="3.0" fill="none" stroke="#33339a" stroke-width="0.65"/>
<rect x="192.5" y="316.2" width="3.0" height="3.0" fill="none" stroke="#33339a" stroke-width="0.65"/>
<rect x="188.3" y="320.5" width="3.0" height="3.0" fill="none" stroke="#33339a" stroke-width="0.65"/>
<rect x="187.9" y="327.9" width="3.0" height="3.0" fill="none" stroke="#33339a" stroke-width="0.65"/>
<rect x="188.3" y="334.5" width="3.0" height="3.0" fill="none" stroke="#33339a" stroke-width="0.65"/>
<polyline points="236.4,57.4 239.6,81.3 230.0,82.8 221.1,90.6 217.3,95.5 218.4,98.7 210.6,104.0 210.6,108.2 214.2,109.7 224.1,113.1 207.8,115.2 224.1,116.7 221.1,118.0 206.7,126.5 230.4,132.2 218.4,133.7 206.3,136.5 226.9,138.6 249.1,144.3 214.2,146.4 229.0,149.2 238.5,158.3 209.9,167.1 222.6,181.5 223.3,181.7 215.2,188.9 203.6,190.2 211.4,195.2 217.3,202.2 220.5,202.9 219.9,205.8 212.7,214.9 219.4,230.4 222.6,231.9 225.4,234.0 212.0,234.0 223.7,235.4 221.1,252.0 209.9,253.0 212.0,255.1 211.0,258.0 215.2,260.6 206.3,269.5 222.0,275.0 217.3,279.2 220.5,282.8 211.0,283.9 215.2,288.1 206.7,300.4 207.8,304.6 218.4,307.1 216.3,317.7 204.2,336.0" fill="none" stroke="#4fb866" stroke-width="0.9"  stroke-linejoin="round" />
<circle cx="236.4" cy="57.4" r="1.6" fill="#a8dca8" stroke="#5cbf70" stroke-width="0.6"/>
<circle cx="239.6" cy="81.3" r="1.6" fill="#a8dca8" stroke="#5cbf70" stroke-width="0.6"/>
<circle cx="230.0" cy="82.8" r="1.6" fill="#a8dca8" stroke="#5cbf70" stroke-width="0.6"/>
<circle cx="221.1" cy="90.6" r="1.6" fill="#a8dca8" stroke="#5cbf70" stroke-width="0.6"/>
<circle cx="217.3" cy="95.5" r="1.6" fill="#a8dca8" stroke="#5cbf70" stroke-width="0.6"/>
<circle cx="218.4" cy="98.7" r="1.6" fill="#a8dca8" stroke="#5cbf70" stroke-width="0.6"/>
<circle cx="210.6" cy="104.0" r="1.6" fill="#a8dca8" stroke="#5cbf70" stroke-width="0.6"/>
<circle cx="210.6" cy="108.2" r="1.6" fill="#a8dca8" stroke="#5cbf70" stroke-width="0.6"/>
<circle cx="214.2" cy="109.7" r="1.6" fill="#a8dca8" stroke="#5cbf70" stroke-width="0.6"/>
<circle cx="224.1" cy="113.1" r="1.6" fill="#a8dca8" stroke="#5cbf70" stroke-width="0.6"/>
<circle cx="207.8" cy="115.2" r="1.6" fill="#a8dca8" stroke="#5cbf70" stroke-width="0.6"/>
<circle cx="224.1" cy="116.7" r="1.6" fill="#a8dca8" stroke="#5cbf70" stroke-width="0.6"/>
<circle cx="221.1" cy="118.0" r="1.6" fill="#a8dca8" stroke="#5cbf70" stroke-width="0.6"/>
<circle cx="206.7" cy="126.5" r="1.6" fill="#a8dca8" stroke="#5cbf70" stroke-width="0.6"/>
<circle cx="230.4" cy="132.2" r="1.6" fill="#a8dca8" stroke="#5cbf70" stroke-width="0.6"/>
<circle cx="218.4" cy="133.7" r="1.6" fill="#a8dca8" stroke="#5cbf70" stroke-width="0.6"/>
<circle cx="206.3" cy="136.5" r="1.6" fill="#a8dca8" stroke="#5cbf70" stroke-width="0.6"/>
<circle cx="226.9" cy="138.6" r="1.6" fill="#a8dca8" stroke="#5cbf70" stroke-width="0.6"/>
<circle cx="249.1" cy="144.3" r="1.6" fill="#a8dca8" stroke="#5cbf70" stroke-width="0.6"/>
<circle cx="214.2" cy="146.4" r="1.6" fill="#a8dca8" stroke="#5cbf70" stroke-width="0.6"/>
<circle cx="229.0" cy="149.2" r="1.6" fill="#a8dca8" stroke="#5cbf70" stroke-width="0.6"/>
<circle cx="238.5" cy="158.3" r="1.6" fill="#a8dca8" stroke="#5cbf70" stroke-width="0.6"/>
<circle cx="209.9" cy="167.1" r="1.6" fill="#a8dca8" stroke="#5cbf70" stroke-width="0.6"/>
<circle cx="222.6" cy="181.5" r="1.6" fill="#a8dca8" stroke="#5cbf70" stroke-width="0.6"/>
<circle cx="223.3" cy="181.7" r="1.6" fill="#a8dca8" stroke="#5cbf70" stroke-width="0.6"/>
<circle cx="215.2" cy="188.9" r="1.6" fill="#a8dca8" stroke="#5cbf70" stroke-width="0.6"/>
<circle cx="203.6" cy="190.2" r="1.6" fill="#a8dca8" stroke="#5cbf70" stroke-width="0.6"/>
<circle cx="211.4" cy="195.2" r="1.6" fill="#a8dca8" stroke="#5cbf70" stroke-width="0.6"/>
<circle cx="217.3" cy="202.2" r="1.6" fill="#a8dca8" stroke="#5cbf70" stroke-width="0.6"/>
<circle cx="220.5" cy="202.9" r="1.6" fill="#a8dca8" stroke="#5cbf70" stroke-width="0.6"/>
<circle cx="219.9" cy="205.8" r="1.6" fill="#a8dca8" stroke="#5cbf70" stroke-width="0.6"/>
<circle cx="212.7" cy="214.9" r="1.6" fill="#a8dca8" stroke="#5cbf70" stroke-width="0.6"/>
<circle cx="219.4" cy="230.4" r="1.6" fill="#a8dca8" stroke="#5cbf70" stroke-width="0.6"/>
<circle cx="222.6" cy="231.9" r="1.6" fill="#a8dca8" stroke="#5cbf70" stroke-width="0.6"/>
<circle cx="225.4" cy="234.0" r="1.6" fill="#a8dca8" stroke="#5cbf70" stroke-width="0.6"/>
<circle cx="212.0" cy="234.0" r="1.6" fill="#a8dca8" stroke="#5cbf70" stroke-width="0.6"/>
<circle cx="223.7" cy="235.4" r="1.6" fill="#a8dca8" stroke="#5cbf70" stroke-width="0.6"/>
<circle cx="221.1" cy="252.0" r="1.6" fill="#a8dca8" stroke="#5cbf70" stroke-width="0.6"/>
<circle cx="209.9" cy="253.0" r="1.6" fill="#a8dca8" stroke="#5cbf70" stroke-width="0.6"/>
<circle cx="212.0" cy="255.1" r="1.6" fill="#a8dca8" stroke="#5cbf70" stroke-width="0.6"/>
<circle cx="211.0" cy="258.0" r="1.6" fill="#a8dca8" stroke="#5cbf70" stroke-width="0.6"/>
<circle cx="215.2" cy="260.6" r="1.6" fill="#a8dca8" stroke="#5cbf70" stroke-width="0.6"/>
<circle cx="206.3" cy="269.5" r="1.6" fill="#a8dca8" stroke="#5cbf70" stroke-width="0.6"/>
<circle cx="222.0" cy="275.0" r="1.6" fill="#a8dca8" stroke="#5cbf70" stroke-width="0.6"/>
<circle cx="217.3" cy="279.2" r="1.6" fill="#a8dca8" stroke="#5cbf70" stroke-width="0.6"/>
<circle cx="220.5" cy="282.8" r="1.6" fill="#a8dca8" stroke="#5cbf70" stroke-width="0.6"/>
<circle cx="211.0" cy="283.9" r="1.6" fill="#a8dca8" stroke="#5cbf70" stroke-width="0.6"/>
<circle cx="215.2" cy="288.1" r="1.6" fill="#a8dca8" stroke="#5cbf70" stroke-width="0.6"/>
<circle cx="206.7" cy="300.4" r="1.6" fill="#a8dca8" stroke="#5cbf70" stroke-width="0.6"/>
<circle cx="207.8" cy="304.6" r="1.6" fill="#a8dca8" stroke="#5cbf70" stroke-width="0.6"/>
<circle cx="218.4" cy="307.1" r="1.6" fill="#a8dca8" stroke="#5cbf70" stroke-width="0.6"/>
<circle cx="216.3" cy="317.7" r="1.6" fill="#a8dca8" stroke="#5cbf70" stroke-width="0.6"/>
<circle cx="204.2" cy="336.0" r="1.6" fill="#a8dca8" stroke="#5cbf70" stroke-width="0.6"/>
<text x="242.2" y="155.8" font-size="8.4" fill="#52b96a" text-anchor="start" >-16.5</text>
<line x1="238" y1="91" x2="238" y2="135.2" stroke="#33339a" stroke-width="1.2" />
<polygon points="238,88 235.8,92.5 240.2,92.5" fill="#33339a"/>
<polygon points="238,138.2 235.8,133.7 240.2,133.7" fill="#33339a"/>
<line x1="227.9" y1="254" x2="227.9" y2="272.4" stroke="#33339a" stroke-width="1.2" />
<polygon points="227.9,251 225.70000000000002,255.5 230.1,255.5" fill="#33339a"/>
<polygon points="227.9,275.4 225.70000000000002,270.9 230.1,270.9" fill="#33339a"/>
<text transform="translate(248.6,114) rotate(-90)" font-size="9.6" fill="#33339a" text-anchor="middle"><tspan font-style="italic">n</tspan>CIEs</text>
<text transform="translate(243.8,266.4) rotate(-90)" font-size="9.6" fill="#33339a" text-anchor="middle"><tspan font-style="italic">n</tspan>CIEs</text>
<text x="290.3" y="10.3" font-size="10.5" fill="#111" text-anchor="middle" >c</text>
<text x="267" y="27.4" font-size="9.6" fill="#e6913e">δ<tspan font-size="5.2" dy="-3.8">34</tspan><tspan dy="3.8">S</tspan><tspan font-size="5.2" dy="1.5">bulk</tspan><tspan dy="-1.5"> (‰)</tspan></text>
<line x1="264.3" y1="47.5" x2="310.7" y2="47.5" stroke="#eeaa70" stroke-width="0.9" />
<line x1="264.3" y1="47.5" x2="264.3" y2="45.3" stroke="#eeaa70" stroke-width="0.8" />
<line x1="273.6" y1="47.5" x2="273.6" y2="45.3" stroke="#eeaa70" stroke-width="0.8" />
<line x1="283" y1="47.5" x2="283" y2="45.3" stroke="#eeaa70" stroke-width="0.8" />
<line x1="292.3" y1="47.5" x2="292.3" y2="45.3" stroke="#eeaa70" stroke-width="0.8" />
<line x1="301.8" y1="47.5" x2="301.8" y2="45.3" stroke="#eeaa70" stroke-width="0.8" />
<line x1="310.7" y1="47.5" x2="310.7" y2="45.3" stroke="#eeaa70" stroke-width="0.8" />
<line x1="301.2" y1="49.3" x2="303.4" y2="45.6" stroke="#6a6ad0" stroke-width="0.8" />
<text x="264.6" y="42" font-size="9" fill="#e6913e" text-anchor="middle" >-5</text>
<text x="283.2" y="42" font-size="9" fill="#e6913e" text-anchor="middle" >5</text>
<text x="300" y="42" font-size="9" fill="#e6913e" text-anchor="middle" >15</text>
<text x="312.7" y="42" font-size="9" fill="#e6913e" text-anchor="middle" >55</text>
<line x1="292.3" y1="47.5" x2="292.3" y2="336" stroke="#5050c8" stroke-width="0.9" stroke-dasharray="2.6,1.8"/>
<line x1="302.4" y1="349.5" x2="349.4" y2="349.5" stroke="#444" stroke-width="0.9" />
<line x1="302.4" y1="349.5" x2="302.4" y2="347.2" stroke="#444" stroke-width="0.8" />
<line x1="325.9" y1="349.5" x2="325.9" y2="347.2" stroke="#444" stroke-width="0.8" />
<line x1="349.4" y1="349.5" x2="349.4" y2="347.2" stroke="#444" stroke-width="0.8" />
<text x="302.4" y="361.6" font-size="9" fill="#33339a" text-anchor="middle" >0</text>
<text x="325.7" y="361.6" font-size="9" fill="#33339a" text-anchor="middle" >0.25</text>
<text x="349.5" y="361.6" font-size="9" fill="#33339a" text-anchor="middle" >0.5</text>
<text x="325.3" y="375.6" font-size="10" fill="#33339a" text-anchor="middle" >TS/TOC</text>
<polyline points="304.9,56.6 305.5,63.0 314.6,78.9 305.5,81.4 310.4,85.6 312.9,86.3 312.5,90.5 334.1,90.5 304.4,95.4 312.9,96.9 314.6,99.0 321.4,100.5 304.4,108.5 305.5,114.4 329.8,115.3 310.4,119.5 303.4,126.5 315.0,126.9 304.4,132.2 306.1,137.5 328.6,139.3 304.4,143.9 348.1,146.7 304.4,149.8 304.4,157.6 307.6,162.9 318.2,165.4 310.8,166.7 307.6,180.9 311.9,181.7 304.4,187.4 311.9,188.5 305.5,194.8 307.6,202.2 306.6,207.1 303.4,214.9 309.7,230.8 304.4,234.6 321.4,241.4 308.7,243.1 315.0,244.6 305.0,247.1 304.4,248.8 304.6,253.0 317.3,258.1 305.4,260.9 313.5,264.5 306.1,267.2 311.4,268.7 318.8,268.7 306.1,274.6 338.4,278.8 309.3,278.9 311.4,282.0 306.1,284.2 304.6,288.4 315.2,301.1 304.6,306.4 309.3,306.8 305.4,318.0 306.1,321.6 303.9,336.7" fill="none" stroke="#33339a" stroke-width="0.8" stroke-dasharray="2.4,1.6" stroke-linejoin="round" />
<rect x="303.4" y="55.1" width="3.0" height="3.0" fill="none" stroke="#33339a" stroke-width="0.65"/>
<rect x="304.0" y="61.5" width="3.0" height="3.0" fill="none" stroke="#33339a" stroke-width="0.65"/>
<rect x="313.1" y="77.4" width="3.0" height="3.0" fill="none" stroke="#33339a" stroke-width="0.65"/>
<rect x="304.0" y="79.9" width="3.0" height="3.0" fill="none" stroke="#33339a" stroke-width="0.65"/>
<rect x="308.9" y="84.1" width="3.0" height="3.0" fill="none" stroke="#33339a" stroke-width="0.65"/>
<rect x="311.4" y="84.8" width="3.0" height="3.0" fill="none" stroke="#33339a" stroke-width="0.65"/>
<rect x="311.0" y="89.0" width="3.0" height="3.0" fill="none" stroke="#33339a" stroke-width="0.65"/>
<rect x="332.6" y="89.0" width="3.0" height="3.0" fill="none" stroke="#33339a" stroke-width="0.65"/>
<rect x="302.9" y="93.9" width="3.0" height="3.0" fill="none" stroke="#33339a" stroke-width="0.65"/>
<rect x="311.4" y="95.4" width="3.0" height="3.0" fill="none" stroke="#33339a" stroke-width="0.65"/>
<rect x="313.1" y="97.5" width="3.0" height="3.0" fill="none" stroke="#33339a" stroke-width="0.65"/>
<rect x="319.9" y="99.0" width="3.0" height="3.0" fill="none" stroke="#33339a" stroke-width="0.65"/>
<rect x="302.9" y="107.0" width="3.0" height="3.0" fill="none" stroke="#33339a" stroke-width="0.65"/>
<rect x="304.0" y="112.9" width="3.0" height="3.0" fill="none" stroke="#33339a" stroke-width="0.65"/>
<rect x="328.3" y="113.8" width="3.0" height="3.0" fill="none" stroke="#33339a" stroke-width="0.65"/>
<rect x="308.9" y="118.0" width="3.0" height="3.0" fill="none" stroke="#33339a" stroke-width="0.65"/>
<rect x="301.9" y="125.0" width="3.0" height="3.0" fill="none" stroke="#33339a" stroke-width="0.65"/>
<rect x="313.5" y="125.4" width="3.0" height="3.0" fill="none" stroke="#33339a" stroke-width="0.65"/>
<rect x="302.9" y="130.7" width="3.0" height="3.0" fill="none" stroke="#33339a" stroke-width="0.65"/>
<rect x="304.6" y="136.0" width="3.0" height="3.0" fill="none" stroke="#33339a" stroke-width="0.65"/>
<rect x="327.1" y="137.8" width="3.0" height="3.0" fill="none" stroke="#33339a" stroke-width="0.65"/>
<rect x="302.9" y="142.4" width="3.0" height="3.0" fill="none" stroke="#33339a" stroke-width="0.65"/>
<rect x="346.6" y="145.2" width="3.0" height="3.0" fill="none" stroke="#33339a" stroke-width="0.65"/>
<rect x="302.9" y="148.3" width="3.0" height="3.0" fill="none" stroke="#33339a" stroke-width="0.65"/>
<rect x="302.9" y="156.1" width="3.0" height="3.0" fill="none" stroke="#33339a" stroke-width="0.65"/>
<rect x="306.1" y="161.4" width="3.0" height="3.0" fill="none" stroke="#33339a" stroke-width="0.65"/>
<rect x="316.7" y="163.9" width="3.0" height="3.0" fill="none" stroke="#33339a" stroke-width="0.65"/>
<rect x="309.3" y="165.2" width="3.0" height="3.0" fill="none" stroke="#33339a" stroke-width="0.65"/>
<rect x="306.1" y="179.4" width="3.0" height="3.0" fill="none" stroke="#33339a" stroke-width="0.65"/>
<rect x="310.4" y="180.2" width="3.0" height="3.0" fill="none" stroke="#33339a" stroke-width="0.65"/>
<rect x="302.9" y="185.9" width="3.0" height="3.0" fill="none" stroke="#33339a" stroke-width="0.65"/>
<rect x="310.4" y="187.0" width="3.0" height="3.0" fill="none" stroke="#33339a" stroke-width="0.65"/>
<rect x="304.0" y="193.3" width="3.0" height="3.0" fill="none" stroke="#33339a" stroke-width="0.65"/>
<rect x="306.1" y="200.7" width="3.0" height="3.0" fill="none" stroke="#33339a" stroke-width="0.65"/>
<rect x="305.1" y="205.6" width="3.0" height="3.0" fill="none" stroke="#33339a" stroke-width="0.65"/>
<rect x="301.9" y="213.4" width="3.0" height="3.0" fill="none" stroke="#33339a" stroke-width="0.65"/>
<rect x="308.2" y="229.3" width="3.0" height="3.0" fill="none" stroke="#33339a" stroke-width="0.65"/>
<rect x="302.9" y="233.1" width="3.0" height="3.0" fill="none" stroke="#33339a" stroke-width="0.65"/>
<rect x="319.9" y="239.9" width="3.0" height="3.0" fill="none" stroke="#33339a" stroke-width="0.65"/>
<rect x="307.2" y="241.6" width="3.0" height="3.0" fill="none" stroke="#33339a" stroke-width="0.65"/>
<rect x="313.5" y="243.1" width="3.0" height="3.0" fill="none" stroke="#33339a" stroke-width="0.65"/>
<rect x="303.5" y="245.6" width="3.0" height="3.0" fill="none" stroke="#33339a" stroke-width="0.65"/>
<rect x="302.9" y="247.3" width="3.0" height="3.0" fill="none" stroke="#33339a" stroke-width="0.65"/>
<rect x="303.1" y="251.5" width="3.0" height="3.0" fill="none" stroke="#33339a" stroke-width="0.65"/>
<rect x="315.8" y="256.6" width="3.0" height="3.0" fill="none" stroke="#33339a" stroke-width="0.65"/>
<rect x="303.9" y="259.4" width="3.0" height="3.0" fill="none" stroke="#33339a" stroke-width="0.65"/>
<rect x="312.0" y="263.0" width="3.0" height="3.0" fill="none" stroke="#33339a" stroke-width="0.65"/>
<rect x="304.6" y="265.7" width="3.0" height="3.0" fill="none" stroke="#33339a" stroke-width="0.65"/>
<rect x="309.9" y="267.2" width="3.0" height="3.0" fill="none" stroke="#33339a" stroke-width="0.65"/>
<rect x="317.3" y="267.2" width="3.0" height="3.0" fill="none" stroke="#33339a" stroke-width="0.65"/>
<rect x="304.6" y="273.1" width="3.0" height="3.0" fill="none" stroke="#33339a" stroke-width="0.65"/>
<rect x="336.9" y="277.3" width="3.0" height="3.0" fill="none" stroke="#33339a" stroke-width="0.65"/>
<rect x="307.8" y="277.4" width="3.0" height="3.0" fill="none" stroke="#33339a" stroke-width="0.65"/>
<rect x="309.9" y="280.5" width="3.0" height="3.0" fill="none" stroke="#33339a" stroke-width="0.65"/>
<rect x="304.6" y="282.7" width="3.0" height="3.0" fill="none" stroke="#33339a" stroke-width="0.65"/>
<rect x="303.1" y="286.9" width="3.0" height="3.0" fill="none" stroke="#33339a" stroke-width="0.65"/>
<rect x="313.7" y="299.6" width="3.0" height="3.0" fill="none" stroke="#33339a" stroke-width="0.65"/>
<rect x="303.1" y="304.9" width="3.0" height="3.0" fill="none" stroke="#33339a" stroke-width="0.65"/>
<rect x="307.8" y="305.3" width="3.0" height="3.0" fill="none" stroke="#33339a" stroke-width="0.65"/>
<rect x="303.9" y="316.5" width="3.0" height="3.0" fill="none" stroke="#33339a" stroke-width="0.65"/>
<rect x="304.6" y="320.1" width="3.0" height="3.0" fill="none" stroke="#33339a" stroke-width="0.65"/>
<rect x="302.4" y="335.2" width="3.0" height="3.0" fill="none" stroke="#33339a" stroke-width="0.65"/>
<polyline points="288.6,82.7 289.6,89.9 285.8,95.4 268.5,97.9 290.7,103.8 288.6,114.2 264.2,114.4 293.9,116.0 281.2,118.0 290.0,138.6 283.7,146.0 292.2,166.7 293.4,186.3 294.3,188.5 309.7,194.8 297.0,201.6 295.6,205.0 293.9,229.7 299.2,231.2 293.9,234.0 294.3,252.0 296.4,253.7 275.8,257.3 277.1,260.9 287.7,275.0 293.4,278.4 294.9,279.3 288.1,283.5 293.4,287.8 294.0,300.0 293.4,303.8 298.7,306.4 297.0,317.4" fill="none" stroke="#ec9a40" stroke-width="0.9"  stroke-linejoin="round" />
<circle cx="288.6" cy="82.7" r="1.6" fill="#f0b330" stroke="#eaa030" stroke-width="0.5"/>
<circle cx="289.6" cy="89.9" r="1.6" fill="#f0b330" stroke="#eaa030" stroke-width="0.5"/>
<circle cx="285.8" cy="95.4" r="1.6" fill="#f0b330" stroke="#eaa030" stroke-width="0.5"/>
<circle cx="268.5" cy="97.9" r="1.6" fill="#f0b330" stroke="#eaa030" stroke-width="0.5"/>
<circle cx="290.7" cy="103.8" r="1.6" fill="#f0b330" stroke="#eaa030" stroke-width="0.5"/>
<circle cx="288.6" cy="114.2" r="1.6" fill="#f0b330" stroke="#eaa030" stroke-width="0.5"/>
<circle cx="264.2" cy="114.4" r="1.6" fill="#f0b330" stroke="#eaa030" stroke-width="0.5"/>
<circle cx="293.9" cy="116.0" r="1.6" fill="#f0b330" stroke="#eaa030" stroke-width="0.5"/>
<circle cx="281.2" cy="118.0" r="1.6" fill="#f0b330" stroke="#eaa030" stroke-width="0.5"/>
<circle cx="290.0" cy="138.6" r="1.6" fill="#f0b330" stroke="#eaa030" stroke-width="0.5"/>
<circle cx="283.7" cy="146.0" r="1.6" fill="#f0b330" stroke="#eaa030" stroke-width="0.5"/>
<circle cx="292.2" cy="166.7" r="1.6" fill="#f0b330" stroke="#eaa030" stroke-width="0.5"/>
<circle cx="293.4" cy="186.3" r="1.6" fill="#f0b330" stroke="#eaa030" stroke-width="0.5"/>
<circle cx="294.3" cy="188.5" r="1.6" fill="#f0b330" stroke="#eaa030" stroke-width="0.5"/>
<circle cx="309.7" cy="194.8" r="1.6" fill="#f0b330" stroke="#eaa030" stroke-width="0.5"/>
<circle cx="297.0" cy="201.6" r="1.6" fill="#f0b330" stroke="#eaa030" stroke-width="0.5"/>
<circle cx="295.6" cy="205.0" r="1.6" fill="#f0b330" stroke="#eaa030" stroke-width="0.5"/>
<circle cx="293.9" cy="229.7" r="1.6" fill="#f0b330" stroke="#eaa030" stroke-width="0.5"/>
<circle cx="299.2" cy="231.2" r="1.6" fill="#f0b330" stroke="#eaa030" stroke-width="0.5"/>
<circle cx="293.9" cy="234.0" r="1.6" fill="#f0b330" stroke="#eaa030" stroke-width="0.5"/>
<circle cx="294.3" cy="252.0" r="1.6" fill="#f0b330" stroke="#eaa030" stroke-width="0.5"/>
<circle cx="296.4" cy="253.7" r="1.6" fill="#f0b330" stroke="#eaa030" stroke-width="0.5"/>
<circle cx="275.8" cy="257.3" r="1.6" fill="#f0b330" stroke="#eaa030" stroke-width="0.5"/>
<circle cx="277.1" cy="260.9" r="1.6" fill="#f0b330" stroke="#eaa030" stroke-width="0.5"/>
<circle cx="287.7" cy="275.0" r="1.6" fill="#f0b330" stroke="#eaa030" stroke-width="0.5"/>
<circle cx="293.4" cy="278.4" r="1.6" fill="#f0b330" stroke="#eaa030" stroke-width="0.5"/>
<circle cx="294.9" cy="279.3" r="1.6" fill="#f0b330" stroke="#eaa030" stroke-width="0.5"/>
<circle cx="288.1" cy="283.5" r="1.6" fill="#f0b330" stroke="#eaa030" stroke-width="0.5"/>
<circle cx="293.4" cy="287.8" r="1.6" fill="#f0b330" stroke="#eaa030" stroke-width="0.5"/>
<circle cx="294.0" cy="300.0" r="1.6" fill="#f0b330" stroke="#eaa030" stroke-width="0.5"/>
<circle cx="293.4" cy="303.8" r="1.6" fill="#f0b330" stroke="#eaa030" stroke-width="0.5"/>
<circle cx="298.7" cy="306.4" r="1.6" fill="#f0b330" stroke="#eaa030" stroke-width="0.5"/>
<circle cx="297.0" cy="317.4" r="1.6" fill="#f0b330" stroke="#eaa030" stroke-width="0.5"/>
<text x="315.4" y="197.4" font-size="8.4" fill="#e6913e" text-anchor="start" >54.4</text>
<text x="337.2" y="155.9" font-size="8.4" fill="#4a4ac0" text-anchor="start" >1.1</text>
<text transform="translate(261.6,114.4) rotate(-90)" font-size="9.6" fill="#33339a" text-anchor="middle"><tspan font-style="italic">n</tspan>SIEs</text>
<text transform="translate(270.0,266.9) rotate(-90)" font-size="9.6" fill="#33339a" text-anchor="middle"><tspan font-style="italic">n</tspan>SIEs</text>
<text x="401.2" y="10.3" font-size="10.5" fill="#111" text-anchor="middle" >d</text>
<text x="401.2" y="27.4" font-size="9.9" fill="#3c3ca8" text-anchor="middle" >Hg/TOC (ppb/%)</text>
<text x="400.2" y="45.6" font-size="9.6" fill="#4cbb6a" text-anchor="middle">Δ<tspan font-size="5.8" dy="-3.6">199</tspan><tspan dy="3.6">Hg (‰)</tspan></text>
<line x1="362.7" y1="55.1" x2="362.7" y2="348.3" stroke="#777" stroke-width="0.9" />
<line x1="358.5" y1="55.1" x2="362.7" y2="55.1" stroke="#777" stroke-width="0.9" />
<line x1="358.6" y1="348.3" x2="362.7" y2="348.3" stroke="#777" stroke-width="0.9" />
<text transform="translate(355.2,57.0) rotate(-90)" font-size="8.2" fill="#222" text-anchor="middle" >Ma</text>
<line x1="359.6" y1="92.5" x2="362.7" y2="92.5" stroke="#777" stroke-width="0.8" />
<text transform="translate(355.2,92.5) rotate(-90)" font-size="8.2" fill="#222" text-anchor="middle" >286</text>
<line x1="359.6" y1="129.5" x2="362.7" y2="129.5" stroke="#777" stroke-width="0.8" />
<text transform="translate(355.2,129.5) rotate(-90)" font-size="8.2" fill="#222" text-anchor="middle" >287</text>
<line x1="359.6" y1="165" x2="362.7" y2="165" stroke="#777" stroke-width="0.8" />
<text transform="translate(355.2,165) rotate(-90)" font-size="8.2" fill="#222" text-anchor="middle" >288</text>
<line x1="359.6" y1="200.6" x2="362.7" y2="200.6" stroke="#777" stroke-width="0.8" />
<text transform="translate(355.2,200.6) rotate(-90)" font-size="8.2" fill="#222" text-anchor="middle" >289</text>
<line x1="359.6" y1="237.5" x2="362.7" y2="237.5" stroke="#777" stroke-width="0.8" />
<text transform="translate(355.2,237.5) rotate(-90)" font-size="8.2" fill="#222" text-anchor="middle" >290</text>
<line x1="359.6" y1="274.4" x2="362.7" y2="274.4" stroke="#777" stroke-width="0.8" />
<text transform="translate(355.2,274.4) rotate(-90)" font-size="8.2" fill="#222" text-anchor="middle" >291</text>
<line x1="359.6" y1="310.3" x2="362.7" y2="310.3" stroke="#777" stroke-width="0.8" />
<text transform="translate(355.2,310.3) rotate(-90)" font-size="8.2" fill="#222" text-anchor="middle" >292</text>
<line x1="402" y1="55.1" x2="402" y2="327.8" stroke="#8c8c8c" stroke-width="0.9" />
<line x1="400.4" y1="55.1" x2="403.6" y2="55.1" stroke="#8c8c8c" stroke-width="0.8" />
<line x1="400.4" y1="88.3" x2="403.6" y2="88.3" stroke="#8c8c8c" stroke-width="0.8" />
<line x1="400.4" y1="162.3" x2="403.6" y2="162.3" stroke="#8c8c8c" stroke-width="0.8" />
<line x1="400.4" y1="237.3" x2="403.6" y2="237.3" stroke="#8c8c8c" stroke-width="0.8" />
<line x1="400.4" y1="268.5" x2="403.6" y2="268.5" stroke="#8c8c8c" stroke-width="0.8" />
<line x1="400.4" y1="305.0" x2="403.6" y2="305.0" stroke="#8c8c8c" stroke-width="0.8" />
<line x1="444.5" y1="55.1" x2="444.5" y2="347.5" stroke="#8c8c8c" stroke-width="0.9" />
<line x1="441.6" y1="55.1" x2="444.5" y2="55.1" stroke="#8c8c8c" stroke-width="0.8" />
<line x1="441.6" y1="162.3" x2="444.5" y2="162.3" stroke="#8c8c8c" stroke-width="0.8" />
<line x1="441.6" y1="237.3" x2="444.5" y2="237.3" stroke="#8c8c8c" stroke-width="0.8" />
<line x1="441.6" y1="268.5" x2="444.5" y2="268.5" stroke="#8c8c8c" stroke-width="0.8" />
<line x1="441.6" y1="305.0" x2="444.5" y2="305.0" stroke="#8c8c8c" stroke-width="0.8" />
<path d="M367.4,55.6 C367.5,58.0 367.8,65.9 368.0,70.0 C368.2,74.1 368.2,76.6 368.6,80.0 C369.0,83.4 369.1,86.8 370.1,90.6 C371.1,94.3 372.5,98.1 374.6,102.5 C376.7,106.9 380.4,112.7 382.5,117.1 C384.6,121.5 386.6,125.0 387.0,129.0 C387.4,133.0 386.6,136.7 385.2,140.9 C383.8,145.1 380.7,150.2 378.5,154.2 C376.3,158.2 373.3,160.5 371.9,164.8 C370.5,169.1 370.6,174.1 370.1,180.0 C369.7,185.9 369.5,193.3 369.2,200.0 C368.9,206.7 368.6,214.2 368.5,220.0 C368.4,225.8 368.2,231.3 368.3,235.0 C368.4,238.7 368.5,240.2 369.3,242.4 C370.1,244.6 371.1,246.4 373.0,248.0 C374.9,249.6 378.5,250.2 380.4,251.7 C382.2,253.2 383.3,255.0 384.1,257.2 C384.9,259.4 385.2,262.1 385.0,264.6 C384.8,267.1 384.3,270.0 383.1,272.0 C381.9,274.0 379.8,275.1 377.6,276.7 C375.5,278.2 371.8,279.4 370.2,281.3 C368.6,283.2 368.3,285.3 367.8,287.8 C367.3,290.3 367.1,290.7 367.0,296.1 C366.9,301.5 367.0,311.4 367.0,320.0 C367.0,328.6 367.0,343.3 367.0,348.0" fill="none" stroke="#3c3ca8" stroke-width="1.1" />
<path d="M415.8,56.0 C415.3,58.3 413.1,64.8 412.6,70.0 C412.1,75.2 411.4,81.6 412.6,87.3 C413.8,93.0 417.2,99.6 419.6,104.2 C422.0,108.8 424.4,111.2 427.0,114.7 C429.6,118.2 433.6,121.4 435.4,124.9 C437.2,128.4 437.6,132.8 437.6,135.8 C437.6,138.9 436.8,140.2 435.4,143.2 C434.0,146.2 430.9,150.3 429.1,153.8 C427.4,157.3 425.8,160.2 424.9,164.4 C424.0,168.6 423.9,173.3 423.8,179.2 C423.8,185.1 425.6,194.8 424.6,199.9 C423.6,205.0 419.9,206.3 418.0,210.0 C416.1,213.7 414.1,217.0 413.0,222.0 C411.9,227.0 411.7,233.7 411.4,240.0 C411.1,246.3 411.1,253.3 411.2,260.0 C411.3,266.7 412.0,274.2 412.2,280.0 C412.4,285.8 412.7,290.0 412.6,295.0 C412.5,300.0 412.2,304.7 411.8,310.0 C411.4,315.3 410.3,323.8 410.0,326.6" fill="none" stroke="#3c3ca8" stroke-width="1.1" />
<path d="M439.7,57.3 C438.8,59.8 436.2,67.5 434.4,72.5 C432.6,77.5 430.5,81.7 429.1,87.3 C427.7,92.9 426.8,101.2 425.9,106.3 C425.0,111.4 424.9,114.7 423.5,118.0 C422.1,121.3 419.8,124.1 417.5,126.3 C415.2,128.5 411.1,129.4 409.5,131.0 C407.9,132.6 407.8,134.2 408.0,135.8 C408.2,137.4 409.3,139.0 411.0,140.5 C412.7,142.0 416.5,143.4 418.0,145.0 C419.5,146.6 420.1,147.8 420.2,150.0 C420.3,152.2 418.9,154.3 418.5,158.0 C418.1,161.7 417.5,167.1 417.5,172.0 C417.5,176.9 417.8,183.3 418.5,187.6 C419.2,191.9 420.1,194.3 421.5,198.0 C422.9,201.7 425.5,205.5 427.0,210.0 C428.5,214.5 429.7,220.0 430.5,225.0 C431.3,230.0 431.5,234.2 431.6,240.0 C431.7,245.8 431.4,253.3 431.0,260.0 C430.6,266.7 429.8,272.3 429.3,280.0 C428.8,287.7 428.4,301.7 428.2,306.0" fill="none" stroke="#3cbb60" stroke-width="1.0" stroke-dasharray="3,1.8"/>
<text x="390.9" y="109.2" font-size="9.3" fill="#e2492f" text-anchor="middle" >VP</text>
<rect x="390.0" y="115" width="2.7" height="33.4" fill="#e8603a" />
<text x="390.1" y="244.5" font-size="9.3" fill="#e2492f" text-anchor="middle" >VP</text>
<rect x="388.7" y="251.3" width="2.7" height="27.2" fill="#e8603a" />
<text x="407.9" y="337.6" font-size="9.2" fill="#40b860" text-anchor="middle" >Liujiang Coalfield</text>
<text x="407.1" y="346.0" font-size="8.8" fill="#40b860" text-anchor="middle" >(Wang et al., 2023)</text>
<text x="404.8" y="365.6" font-size="9.1" fill="#3c3ca8" text-anchor="middle" >North China Platform</text>
<text x="405.8" y="374.2" font-size="8.8" fill="#3c3ca8" text-anchor="middle" >(Lu et al., 2021)</text>
<rect x="457.0" y="47.9" width="9.3" height="144.9" fill="#f3ebd4" />
<rect x="457.0" y="192.8" width="9.3" height="156.2" fill="#d7ebf2" />
<line x1="457.3" y1="47.9" x2="457.3" y2="349.0" stroke="#a9a49a" stroke-width="0.7" />
<line x1="466.3" y1="47.9" x2="466.3" y2="349.0" stroke="#444" stroke-width="0.9" />
<line x1="466.3" y1="53.5" x2="470.3" y2="53.5" stroke="#444" stroke-width="0.8" />
<line x1="466.3" y1="62.797" x2="468.5" y2="62.797" stroke="#444" stroke-width="0.8" />
<line x1="466.3" y1="72.094" x2="468.5" y2="72.094" stroke="#444" stroke-width="0.8" />
<line x1="466.3" y1="81.391" x2="468.5" y2="81.391" stroke="#444" stroke-width="0.8" />
<line x1="466.3" y1="90.688" x2="468.5" y2="90.688" stroke="#444" stroke-width="0.8" />
<line x1="466.3" y1="99.985" x2="470.3" y2="99.985" stroke="#444" stroke-width="0.8" />
<line x1="466.3" y1="109.28200000000001" x2="468.5" y2="109.28200000000001" stroke="#444" stroke-width="0.8" />
<line x1="466.3" y1="118.57900000000001" x2="468.5" y2="118.57900000000001" stroke="#444" stroke-width="0.8" />
<line x1="466.3" y1="127.876" x2="468.5" y2="127.876" stroke="#444" stroke-width="0.8" />
<line x1="466.3" y1="137.173" x2="468.5" y2="137.173" stroke="#444" stroke-width="0.8" />
<line x1="466.3" y1="146.47" x2="470.3" y2="146.47" stroke="#444" stroke-width="0.8" />
<line x1="466.3" y1="155.767" x2="468.5" y2="155.767" stroke="#444" stroke-width="0.8" />
<line x1="466.3" y1="165.06400000000002" x2="468.5" y2="165.06400000000002" stroke="#444" stroke-width="0.8" />
<line x1="466.3" y1="174.361" x2="468.5" y2="174.361" stroke="#444" stroke-width="0.8" />
<line x1="466.3" y1="183.65800000000002" x2="468.5" y2="183.65800000000002" stroke="#444" stroke-width="0.8" />
<line x1="466.3" y1="192.955" x2="470.3" y2="192.955" stroke="#444" stroke-width="0.8" />
<line x1="466.3" y1="202.252" x2="468.5" y2="202.252" stroke="#444" stroke-width="0.8" />
<line x1="466.3" y1="211.549" x2="468.5" y2="211.549" stroke="#444" stroke-width="0.8" />
<line x1="466.3" y1="220.846" x2="468.5" y2="220.846" stroke="#444" stroke-width="0.8" />
<line x1="466.3" y1="230.143" x2="468.5" y2="230.143" stroke="#444" stroke-width="0.8" />
<line x1="466.3" y1="239.44" x2="470.3" y2="239.44" stroke="#444" stroke-width="0.8" />
<line x1="466.3" y1="248.73700000000002" x2="468.5" y2="248.73700000000002" stroke="#444" stroke-width="0.8" />
<line x1="466.3" y1="258.034" x2="468.5" y2="258.034" stroke="#444" stroke-width="0.8" />
<line x1="466.3" y1="267.331" x2="468.5" y2="267.331" stroke="#444" stroke-width="0.8" />
<line x1="466.3" y1="276.62800000000004" x2="468.5" y2="276.62800000000004" stroke="#444" stroke-width="0.8" />
<line x1="466.3" y1="285.925" x2="470.3" y2="285.925" stroke="#444" stroke-width="0.8" />
<line x1="466.3" y1="295.222" x2="468.5" y2="295.222" stroke="#444" stroke-width="0.8" />
<line x1="466.3" y1="304.519" x2="468.5" y2="304.519" stroke="#444" stroke-width="0.8" />
<line x1="466.3" y1="313.81600000000003" x2="468.5" y2="313.81600000000003" stroke="#444" stroke-width="0.8" />
<line x1="466.3" y1="323.113" x2="468.5" y2="323.113" stroke="#444" stroke-width="0.8" />
<line x1="466.3" y1="332.41" x2="470.3" y2="332.41" stroke="#444" stroke-width="0.8" />
<text transform="translate(465.3,120.6) rotate(-90)" font-size="8.0" fill="#222" text-anchor="middle" >Upper Member</text>
<text transform="translate(465.3,271.5) rotate(-90)" font-size="8.0" fill="#222" text-anchor="middle" >Lower Member</text>
<text x="510.1" y="10.3" font-size="10.5" fill="#111" text-anchor="middle" >e</text>
<text x="509.5" y="27.4" font-size="10" fill="#4a5fc1" text-anchor="middle" >P/Ti</text>
<line x1="481.6" y1="47.4" x2="535.8" y2="47.4" stroke="#4a5fc1" stroke-width="0.9" />
<line x1="481.6" y1="47.4" x2="481.6" y2="45.1" stroke="#4a5fc1" stroke-width="0.8" />
<line x1="499.5" y1="47.4" x2="499.5" y2="45.1" stroke="#4a5fc1" stroke-width="0.8" />
<line x1="517.4" y1="47.4" x2="517.4" y2="45.1" stroke="#4a5fc1" stroke-width="0.8" />
<line x1="535.8" y1="47.4" x2="535.8" y2="45.1" stroke="#4a5fc1" stroke-width="0.8" />
<text x="481.6" y="42" font-size="9" fill="#4a5fc1" text-anchor="middle" >0</text>
<text x="500" y="42" font-size="9" fill="#4a5fc1" text-anchor="middle" >0.2</text>
<text x="518" y="42" font-size="9" fill="#4a5fc1" text-anchor="middle" >0.4</text>
<text x="536.2" y="42" font-size="9" fill="#4a5fc1" text-anchor="middle" >0.6</text>
<line x1="477.3" y1="349.5" x2="523" y2="349.5" stroke="#444" stroke-width="0.9" />
<line x1="477.3" y1="349.5" x2="477.3" y2="347.2" stroke="#444" stroke-width="0.8" />
<line x1="493.1" y1="349.5" x2="493.1" y2="347.2" stroke="#444" stroke-width="0.8" />
<line x1="508.2" y1="349.5" x2="508.2" y2="347.2" stroke="#444" stroke-width="0.8" />
<line x1="523" y1="349.5" x2="523" y2="347.2" stroke="#444" stroke-width="0.8" />
<text x="477.3" y="361.6" font-size="9" fill="#333" text-anchor="middle" >0</text>
<text x="493.5" y="361.6" font-size="9" fill="#333" text-anchor="middle" >0.1</text>
<text x="508.6" y="361.6" font-size="9" fill="#333" text-anchor="middle" >0.2</text>
<text x="523.5" y="361.6" font-size="9" fill="#333" text-anchor="middle" >0.3</text>
<text x="502.8" y="374.2" font-size="10" fill="#333" text-anchor="middle" >P (%)</text>
<polyline points="486.5,57.4 483.8,80.7 488.6,82.8 501.3,89.8 491.2,95.5 502.8,98.3 501.3,104.0 482.3,108.2 483.8,110.3 485.2,113.1 480.2,114.6 483.8,117.7 518.3,126.2 486.9,128.3 493.3,132.3 480.6,133.8 482.7,135.9 490.7,138.6 481.6,145.0 485.2,148.6 478.9,158.1 483.1,167.0 484.4,181.4 482.7,189.4 486.5,189.8 481.0,194.6 481.6,202.3 484.4,205.2 483.1,215.0 482.3,231.9 486.5,234.0 483.1,234.4 485.2,251.4 483.1,253.5 480.2,257.7 487.4,260.9 484.8,269.5 481.6,275.2 498.6,279.5 482.7,282.2 485.2,285.0 483.8,288.0 484.8,300.2 484.4,304.4 480.6,304.9 482.7,307.6 482.7,317.6 484.4,336.2" fill="none" stroke="#34344e" stroke-width="0.85"  stroke-linejoin="round" />
<rect x="484.9" y="55.9" width="3.1" height="3.1" fill="#fff" stroke="#3a3a3a" stroke-width="0.65"/>
<rect x="482.2" y="79.2" width="3.1" height="3.1" fill="#fff" stroke="#3a3a3a" stroke-width="0.65"/>
<rect x="487.1" y="81.2" width="3.1" height="3.1" fill="#fff" stroke="#3a3a3a" stroke-width="0.65"/>
<rect x="499.8" y="88.2" width="3.1" height="3.1" fill="#fff" stroke="#3a3a3a" stroke-width="0.65"/>
<rect x="489.6" y="94.0" width="3.1" height="3.1" fill="#fff" stroke="#3a3a3a" stroke-width="0.65"/>
<rect x="501.2" y="96.8" width="3.1" height="3.1" fill="#fff" stroke="#3a3a3a" stroke-width="0.65"/>
<rect x="499.8" y="102.5" width="3.1" height="3.1" fill="#fff" stroke="#3a3a3a" stroke-width="0.65"/>
<rect x="480.8" y="106.7" width="3.1" height="3.1" fill="#fff" stroke="#3a3a3a" stroke-width="0.65"/>
<rect x="482.2" y="108.8" width="3.1" height="3.1" fill="#fff" stroke="#3a3a3a" stroke-width="0.65"/>
<rect x="483.6" y="111.5" width="3.1" height="3.1" fill="#fff" stroke="#3a3a3a" stroke-width="0.65"/>
<rect x="478.6" y="113.0" width="3.1" height="3.1" fill="#fff" stroke="#3a3a3a" stroke-width="0.65"/>
<rect x="482.2" y="116.2" width="3.1" height="3.1" fill="#fff" stroke="#3a3a3a" stroke-width="0.65"/>
<rect x="516.8" y="124.7" width="3.1" height="3.1" fill="#fff" stroke="#3a3a3a" stroke-width="0.65"/>
<rect x="485.3" y="126.8" width="3.1" height="3.1" fill="#fff" stroke="#3a3a3a" stroke-width="0.65"/>
<rect x="491.8" y="130.8" width="3.1" height="3.1" fill="#fff" stroke="#3a3a3a" stroke-width="0.65"/>
<rect x="479.1" y="132.2" width="3.1" height="3.1" fill="#fff" stroke="#3a3a3a" stroke-width="0.65"/>
<rect x="481.1" y="134.3" width="3.1" height="3.1" fill="#fff" stroke="#3a3a3a" stroke-width="0.65"/>
<rect x="489.1" y="137.0" width="3.1" height="3.1" fill="#fff" stroke="#3a3a3a" stroke-width="0.65"/>
<rect x="480.1" y="143.4" width="3.1" height="3.1" fill="#fff" stroke="#3a3a3a" stroke-width="0.65"/>
<rect x="483.6" y="147.0" width="3.1" height="3.1" fill="#fff" stroke="#3a3a3a" stroke-width="0.65"/>
<rect x="477.3" y="156.5" width="3.1" height="3.1" fill="#fff" stroke="#3a3a3a" stroke-width="0.65"/>
<rect x="481.6" y="165.4" width="3.1" height="3.1" fill="#fff" stroke="#3a3a3a" stroke-width="0.65"/>
<rect x="482.8" y="179.8" width="3.1" height="3.1" fill="#fff" stroke="#3a3a3a" stroke-width="0.65"/>
<rect x="481.1" y="187.8" width="3.1" height="3.1" fill="#fff" stroke="#3a3a3a" stroke-width="0.65"/>
<rect x="484.9" y="188.2" width="3.1" height="3.1" fill="#fff" stroke="#3a3a3a" stroke-width="0.65"/>
<rect x="479.4" y="193.0" width="3.1" height="3.1" fill="#fff" stroke="#3a3a3a" stroke-width="0.65"/>
<rect x="480.1" y="200.8" width="3.1" height="3.1" fill="#fff" stroke="#3a3a3a" stroke-width="0.65"/>
<rect x="482.8" y="203.6" width="3.1" height="3.1" fill="#fff" stroke="#3a3a3a" stroke-width="0.65"/>
<rect x="481.6" y="213.4" width="3.1" height="3.1" fill="#fff" stroke="#3a3a3a" stroke-width="0.65"/>
<rect x="480.8" y="230.3" width="3.1" height="3.1" fill="#fff" stroke="#3a3a3a" stroke-width="0.65"/>
<rect x="484.9" y="232.4" width="3.1" height="3.1" fill="#fff" stroke="#3a3a3a" stroke-width="0.65"/>
<rect x="481.6" y="232.8" width="3.1" height="3.1" fill="#fff" stroke="#3a3a3a" stroke-width="0.65"/>
<rect x="483.6" y="249.8" width="3.1" height="3.1" fill="#fff" stroke="#3a3a3a" stroke-width="0.65"/>
<rect x="481.6" y="251.9" width="3.1" height="3.1" fill="#fff" stroke="#3a3a3a" stroke-width="0.65"/>
<rect x="478.6" y="256.1" width="3.1" height="3.1" fill="#fff" stroke="#3a3a3a" stroke-width="0.65"/>
<rect x="485.8" y="259.3" width="3.1" height="3.1" fill="#fff" stroke="#3a3a3a" stroke-width="0.65"/>
<rect x="483.2" y="267.9" width="3.1" height="3.1" fill="#fff" stroke="#3a3a3a" stroke-width="0.65"/>
<rect x="480.1" y="273.6" width="3.1" height="3.1" fill="#fff" stroke="#3a3a3a" stroke-width="0.65"/>
<rect x="497.1" y="277.9" width="3.1" height="3.1" fill="#fff" stroke="#3a3a3a" stroke-width="0.65"/>
<rect x="481.1" y="280.6" width="3.1" height="3.1" fill="#fff" stroke="#3a3a3a" stroke-width="0.65"/>
<rect x="483.6" y="283.4" width="3.1" height="3.1" fill="#fff" stroke="#3a3a3a" stroke-width="0.65"/>
<rect x="482.2" y="286.4" width="3.1" height="3.1" fill="#fff" stroke="#3a3a3a" stroke-width="0.65"/>
<rect x="483.2" y="298.6" width="3.1" height="3.1" fill="#fff" stroke="#3a3a3a" stroke-width="0.65"/>
<rect x="482.8" y="302.8" width="3.1" height="3.1" fill="#fff" stroke="#3a3a3a" stroke-width="0.65"/>
<rect x="479.1" y="303.3" width="3.1" height="3.1" fill="#fff" stroke="#3a3a3a" stroke-width="0.65"/>
<rect x="481.1" y="306.1" width="3.1" height="3.1" fill="#fff" stroke="#3a3a3a" stroke-width="0.65"/>
<rect x="481.1" y="316.1" width="3.1" height="3.1" fill="#fff" stroke="#3a3a3a" stroke-width="0.65"/>
<rect x="482.8" y="334.6" width="3.1" height="3.1" fill="#fff" stroke="#3a3a3a" stroke-width="0.65"/>
<polyline points="492.9,57.4 490.1,81.3 501.7,82.8 519.7,90.2 500.7,95.5 536.0,98.3 524.0,104.0 495.8,108.8 504.9,109.7 524.6,113.1 520.4,114.6 535.6,116.7 492.2,117.7 526.7,126.5 489.3,128.6 524.6,132.3 498.6,133.8 496.5,135.9 515.5,138.6 493.7,145.0 490.1,148.6 493.3,157.7 488.0,167.0 495.0,181.4 498.6,186.7 490.7,188.8 496.5,189.8 491.4,194.6 496.5,202.3 491.2,203.1 492.2,214.3 509.8,229.8 490.7,231.3 502.2,233.4 497.1,234.4 501.7,251.8 508.1,252.4 490.1,253.5 487.4,257.7 511.9,260.9 498.6,260.9 492.9,269.5 490.7,275.2 531.8,279.0 520.8,279.5 492.2,282.2 504.3,284.3 510.6,287.5 506.4,288.0 493.7,300.2 493.7,304.4 495.8,307.0 492.9,317.6 493.7,335.8" fill="none" stroke="#3f55bd" stroke-width="0.9"  stroke-linejoin="round" />
<circle cx="492.9" cy="57.4" r="1.75" fill="#a9d9ee" stroke="#6fa6dc" stroke-width="0.6"/>
<circle cx="490.1" cy="81.3" r="1.75" fill="#a9d9ee" stroke="#6fa6dc" stroke-width="0.6"/>
<circle cx="501.7" cy="82.8" r="1.75" fill="#a9d9ee" stroke="#6fa6dc" stroke-width="0.6"/>
<circle cx="519.7" cy="90.2" r="1.75" fill="#a9d9ee" stroke="#6fa6dc" stroke-width="0.6"/>
<circle cx="500.7" cy="95.5" r="1.75" fill="#a9d9ee" stroke="#6fa6dc" stroke-width="0.6"/>
<circle cx="536.0" cy="98.3" r="1.75" fill="#a9d9ee" stroke="#6fa6dc" stroke-width="0.6"/>
<circle cx="524.0" cy="104.0" r="1.75" fill="#a9d9ee" stroke="#6fa6dc" stroke-width="0.6"/>
<circle cx="495.8" cy="108.8" r="1.75" fill="#a9d9ee" stroke="#6fa6dc" stroke-width="0.6"/>
<circle cx="504.9" cy="109.7" r="1.75" fill="#a9d9ee" stroke="#6fa6dc" stroke-width="0.6"/>
<circle cx="524.6" cy="113.1" r="1.75" fill="#a9d9ee" stroke="#6fa6dc" stroke-width="0.6"/>
<circle cx="520.4" cy="114.6" r="1.75" fill="#a9d9ee" stroke="#6fa6dc" stroke-width="0.6"/>
<circle cx="535.6" cy="116.7" r="1.75" fill="#a9d9ee" stroke="#6fa6dc" stroke-width="0.6"/>
<circle cx="492.2" cy="117.7" r="1.75" fill="#a9d9ee" stroke="#6fa6dc" stroke-width="0.6"/>
<circle cx="526.7" cy="126.5" r="1.75" fill="#a9d9ee" stroke="#6fa6dc" stroke-width="0.6"/>
<circle cx="489.3" cy="128.6" r="1.75" fill="#a9d9ee" stroke="#6fa6dc" stroke-width="0.6"/>
<circle cx="524.6" cy="132.3" r="1.75" fill="#a9d9ee" stroke="#6fa6dc" stroke-width="0.6"/>
<circle cx="498.6" cy="133.8" r="1.75" fill="#a9d9ee" stroke="#6fa6dc" stroke-width="0.6"/>
<circle cx="496.5" cy="135.9" r="1.75" fill="#a9d9ee" stroke="#6fa6dc" stroke-width="0.6"/>
<circle cx="515.5" cy="138.6" r="1.75" fill="#a9d9ee" stroke="#6fa6dc" stroke-width="0.6"/>
<circle cx="493.7" cy="145.0" r="1.75" fill="#a9d9ee" stroke="#6fa6dc" stroke-width="0.6"/>
<circle cx="490.1" cy="148.6" r="1.75" fill="#a9d9ee" stroke="#6fa6dc" stroke-width="0.6"/>
<circle cx="493.3" cy="157.7" r="1.75" fill="#a9d9ee" stroke="#6fa6dc" stroke-width="0.6"/>
<circle cx="488.0" cy="167.0" r="1.75" fill="#a9d9ee" stroke="#6fa6dc" stroke-width="0.6"/>
<circle cx="495.0" cy="181.4" r="1.75" fill="#a9d9ee" stroke="#6fa6dc" stroke-width="0.6"/>
<circle cx="498.6" cy="186.7" r="1.75" fill="#a9d9ee" stroke="#6fa6dc" stroke-width="0.6"/>
<circle cx="490.7" cy="188.8" r="1.75" fill="#a9d9ee" stroke="#6fa6dc" stroke-width="0.6"/>
<circle cx="496.5" cy="189.8" r="1.75" fill="#a9d9ee" stroke="#6fa6dc" stroke-width="0.6"/>
<circle cx="491.4" cy="194.6" r="1.75" fill="#a9d9ee" stroke="#6fa6dc" stroke-width="0.6"/>
<circle cx="496.5" cy="202.3" r="1.75" fill="#a9d9ee" stroke="#6fa6dc" stroke-width="0.6"/>
<circle cx="491.2" cy="203.1" r="1.75" fill="#a9d9ee" stroke="#6fa6dc" stroke-width="0.6"/>
<circle cx="492.2" cy="214.3" r="1.75" fill="#a9d9ee" stroke="#6fa6dc" stroke-width="0.6"/>
<circle cx="509.8" cy="229.8" r="1.75" fill="#a9d9ee" stroke="#6fa6dc" stroke-width="0.6"/>
<circle cx="490.7" cy="231.3" r="1.75" fill="#a9d9ee" stroke="#6fa6dc" stroke-width="0.6"/>
<circle cx="502.2" cy="233.4" r="1.75" fill="#a9d9ee" stroke="#6fa6dc" stroke-width="0.6"/>
<circle cx="497.1" cy="234.4" r="1.75" fill="#a9d9ee" stroke="#6fa6dc" stroke-width="0.6"/>
<circle cx="501.7" cy="251.8" r="1.75" fill="#a9d9ee" stroke="#6fa6dc" stroke-width="0.6"/>
<circle cx="508.1" cy="252.4" r="1.75" fill="#a9d9ee" stroke="#6fa6dc" stroke-width="0.6"/>
<circle cx="490.1" cy="253.5" r="1.75" fill="#a9d9ee" stroke="#6fa6dc" stroke-width="0.6"/>
<circle cx="487.4" cy="257.7" r="1.75" fill="#a9d9ee" stroke="#6fa6dc" stroke-width="0.6"/>
<circle cx="511.9" cy="260.9" r="1.75" fill="#a9d9ee" stroke="#6fa6dc" stroke-width="0.6"/>
<circle cx="498.6" cy="260.9" r="1.75" fill="#a9d9ee" stroke="#6fa6dc" stroke-width="0.6"/>
<circle cx="492.9" cy="269.5" r="1.75" fill="#a9d9ee" stroke="#6fa6dc" stroke-width="0.6"/>
<circle cx="490.7" cy="275.2" r="1.75" fill="#a9d9ee" stroke="#6fa6dc" stroke-width="0.6"/>
<circle cx="531.8" cy="279.0" r="1.75" fill="#a9d9ee" stroke="#6fa6dc" stroke-width="0.6"/>
<circle cx="520.8" cy="279.5" r="1.75" fill="#a9d9ee" stroke="#6fa6dc" stroke-width="0.6"/>
<circle cx="492.2" cy="282.2" r="1.75" fill="#a9d9ee" stroke="#6fa6dc" stroke-width="0.6"/>
<circle cx="504.3" cy="284.3" r="1.75" fill="#a9d9ee" stroke="#6fa6dc" stroke-width="0.6"/>
<circle cx="510.6" cy="287.5" r="1.75" fill="#a9d9ee" stroke="#6fa6dc" stroke-width="0.6"/>
<circle cx="506.4" cy="288.0" r="1.75" fill="#a9d9ee" stroke="#6fa6dc" stroke-width="0.6"/>
<circle cx="493.7" cy="300.2" r="1.75" fill="#a9d9ee" stroke="#6fa6dc" stroke-width="0.6"/>
<circle cx="493.7" cy="304.4" r="1.75" fill="#a9d9ee" stroke="#6fa6dc" stroke-width="0.6"/>
<circle cx="495.8" cy="307.0" r="1.75" fill="#a9d9ee" stroke="#6fa6dc" stroke-width="0.6"/>
<circle cx="492.9" cy="317.6" r="1.75" fill="#a9d9ee" stroke="#6fa6dc" stroke-width="0.6"/>
<circle cx="493.7" cy="335.8" r="1.75" fill="#a9d9ee" stroke="#6fa6dc" stroke-width="0.6"/>
<text x="570.4" y="10.3" font-size="10.5" fill="#111" text-anchor="middle" >f</text>
<text x="570.4" y="29.0" font-size="10" fill="#333" text-anchor="middle" >Th/U</text>
<line x1="548.1" y1="47.6" x2="597.2" y2="47.6" stroke="#888" stroke-width="0.9" />
<line x1="548.1" y1="47.6" x2="548.1" y2="45.3" stroke="#888" stroke-width="0.8" />
<line x1="558" y1="47.6" x2="558" y2="45.3" stroke="#888" stroke-width="0.8" />
<line x1="567.5" y1="47.6" x2="567.5" y2="45.3" stroke="#888" stroke-width="0.8" />
<line x1="577.5" y1="47.6" x2="577.5" y2="45.3" stroke="#888" stroke-width="0.8" />
<line x1="587.3" y1="47.6" x2="587.3" y2="45.3" stroke="#888" stroke-width="0.8" />
<line x1="597.2" y1="47.6" x2="597.2" y2="45.3" stroke="#888" stroke-width="0.8" />
<text x="548.1" y="42" font-size="9" fill="#333" text-anchor="middle" >0</text>
<text x="558" y="42" font-size="9" fill="#333" text-anchor="middle" >1</text>
<text x="567.5" y="42" font-size="9" fill="#333" text-anchor="middle" >2</text>
<text x="577.5" y="42" font-size="9" fill="#333" text-anchor="middle" >3</text>
<text x="587.3" y="42" font-size="9" fill="#333" text-anchor="middle" >4</text>
<text x="597.2" y="42" font-size="9" fill="#333" text-anchor="middle" >5</text>
<line x1="548.2" y1="349.5" x2="597.6" y2="349.5" stroke="#444" stroke-width="0.9" />
<line x1="548.2" y1="349.5" x2="548.2" y2="347.2" stroke="#444" stroke-width="0.8" />
<line x1="558.0" y1="349.5" x2="558.0" y2="347.2" stroke="#444" stroke-width="0.8" />
<line x1="567.6" y1="349.5" x2="567.6" y2="347.2" stroke="#444" stroke-width="0.8" />
<line x1="577.4" y1="349.5" x2="577.4" y2="347.2" stroke="#444" stroke-width="0.8" />
<line x1="587.3" y1="349.5" x2="587.3" y2="347.2" stroke="#444" stroke-width="0.8" />
<line x1="597.6" y1="349.5" x2="597.6" y2="347.2" stroke="#444" stroke-width="0.8" />
<text x="548.2" y="361.6" font-size="9" fill="#333" text-anchor="middle" >0</text>
<text x="567.4" y="361.6" font-size="9" fill="#333" text-anchor="middle" >2</text>
<text x="587.3" y="361.6" font-size="9" fill="#333" text-anchor="middle" >4</text>
<text x="567.6" y="375.8" font-size="10" fill="#222" text-anchor="middle" >Th/U</text>
<polygon points="567.6,96.2 584.4,90.4 567.6,101.2" fill="#a8daea"/>
<line x1="584.4" y1="90.4" x2="567.6" y2="101.2" stroke="#6cc890" stroke-width="0.6" />
<polygon points="567.6,97.5 559.6,98.2 567.6,101.5" fill="#eea6a8"/>
<polygon points="567.6,126 559.5,128.6 553.8,133.8 563.3,135.2 565.4,138.6 562.2,144.3 567.6,146" fill="#eea6a8"/>
<polygon points="567.6,279 589.7,279 567.6,288" fill="#a8daea"/>
<polygon points="567.6,282 562.2,284.3 561.2,287.5 567.6,288" fill="#eea6a8"/>
<polygon points="567.6,256.8 585.5,257.7 567.6,260.5" fill="#a8daea"/>
<line x1="567.6" y1="47.6" x2="567.6" y2="349.5" stroke="#6e625c" stroke-width="1.2" stroke-dasharray="2.4,1.4"/>
<polyline points="582.3,58.0 570.7,81.3 564.3,83.4 584.4,90.6 571.3,95.5 565.8,97.0 559.5,98.3 569.6,104.0 574.9,109.3 571.7,110.3 556.5,113.1 595.4,114.6 582.3,115.2 553.8,117.3 570.7,118.1 565.0,126.0 559.5,128.6 553.8,133.8 563.3,135.2 565.4,138.6 562.2,144.3 562.2,149.2 568.6,157.7 572.8,167.0 571.3,181.4 575.6,186.0 566.5,188.8 572.8,189.8 562.6,194.6 563.3,202.3 561.2,205.2 560.1,230.2 558.0,233.4 560.1,234.4 559.5,251.4 556.5,253.5 585.5,257.7 581.3,257.7 562.2,260.9 576.0,260.9 559.5,268.9 556.9,275.2 589.7,279.0 556.5,282.2 562.2,284.3 561.2,287.5 565.4,288.0 562.9,300.2 555.9,304.0 561.2,307.0 558.0,317.1 564.3,335.8" fill="none" stroke="#4a6fc4" stroke-width="0.9"  stroke-linejoin="round" />
<circle cx="582.3" cy="58.0" r="1.7" fill="#fff" stroke="#4a6fc4" stroke-width="0.6"/>
<circle cx="570.7" cy="81.3" r="1.7" fill="#fff" stroke="#4a6fc4" stroke-width="0.6"/>
<circle cx="564.3" cy="83.4" r="1.7" fill="#fff" stroke="#4a6fc4" stroke-width="0.6"/>
<circle cx="584.4" cy="90.6" r="1.7" fill="#fff" stroke="#4a6fc4" stroke-width="0.6"/>
<circle cx="571.3" cy="95.5" r="1.7" fill="#fff" stroke="#4a6fc4" stroke-width="0.6"/>
<circle cx="565.8" cy="97.0" r="1.7" fill="#fff" stroke="#4a6fc4" stroke-width="0.6"/>
<circle cx="559.5" cy="98.3" r="1.7" fill="#fff" stroke="#4a6fc4" stroke-width="0.6"/>
<circle cx="569.6" cy="104.0" r="1.7" fill="#fff" stroke="#4a6fc4" stroke-width="0.6"/>
<circle cx="574.9" cy="109.3" r="1.7" fill="#fff" stroke="#4a6fc4" stroke-width="0.6"/>
<circle cx="571.7" cy="110.3" r="1.7" fill="#fff" stroke="#4a6fc4" stroke-width="0.6"/>
<circle cx="556.5" cy="113.1" r="1.7" fill="#fff" stroke="#4a6fc4" stroke-width="0.6"/>
<circle cx="595.4" cy="114.6" r="1.7" fill="#fff" stroke="#4a6fc4" stroke-width="0.6"/>
<circle cx="582.3" cy="115.2" r="1.7" fill="#fff" stroke="#4a6fc4" stroke-width="0.6"/>
<circle cx="553.8" cy="117.3" r="1.7" fill="#fff" stroke="#4a6fc4" stroke-width="0.6"/>
<circle cx="570.7" cy="118.1" r="1.7" fill="#fff" stroke="#4a6fc4" stroke-width="0.6"/>
<circle cx="565.0" cy="126.0" r="1.7" fill="#fff" stroke="#4a6fc4" stroke-width="0.6"/>
<circle cx="559.5" cy="128.6" r="1.7" fill="#fff" stroke="#4a6fc4" stroke-width="0.6"/>
<circle cx="553.8" cy="133.8" r="1.7" fill="#fff" stroke="#4a6fc4" stroke-width="0.6"/>
<circle cx="563.3" cy="135.2" r="1.7" fill="#fff" stroke="#4a6fc4" stroke-width="0.6"/>
<circle cx="565.4" cy="138.6" r="1.7" fill="#fff" stroke="#4a6fc4" stroke-width="0.6"/>
<circle cx="562.2" cy="144.3" r="1.7" fill="#fff" stroke="#4a6fc4" stroke-width="0.6"/>
<circle cx="562.2" cy="149.2" r="1.7" fill="#fff" stroke="#4a6fc4" stroke-width="0.6"/>
<circle cx="568.6" cy="157.7" r="1.7" fill="#fff" stroke="#4a6fc4" stroke-width="0.6"/>
<circle cx="572.8" cy="167.0" r="1.7" fill="#fff" stroke="#4a6fc4" stroke-width="0.6"/>
<circle cx="571.3" cy="181.4" r="1.7" fill="#fff" stroke="#4a6fc4" stroke-width="0.6"/>
<circle cx="575.6" cy="186.0" r="1.7" fill="#fff" stroke="#4a6fc4" stroke-width="0.6"/>
<circle cx="566.5" cy="188.8" r="1.7" fill="#fff" stroke="#4a6fc4" stroke-width="0.6"/>
<circle cx="572.8" cy="189.8" r="1.7" fill="#fff" stroke="#4a6fc4" stroke-width="0.6"/>
<circle cx="562.6" cy="194.6" r="1.7" fill="#fff" stroke="#4a6fc4" stroke-width="0.6"/>
<circle cx="563.3" cy="202.3" r="1.7" fill="#fff" stroke="#4a6fc4" stroke-width="0.6"/>
<circle cx="561.2" cy="205.2" r="1.7" fill="#fff" stroke="#4a6fc4" stroke-width="0.6"/>
<circle cx="560.1" cy="230.2" r="1.7" fill="#fff" stroke="#4a6fc4" stroke-width="0.6"/>
<circle cx="558.0" cy="233.4" r="1.7" fill="#fff" stroke="#4a6fc4" stroke-width="0.6"/>
<circle cx="560.1" cy="234.4" r="1.7" fill="#fff" stroke="#4a6fc4" stroke-width="0.6"/>
<circle cx="559.5" cy="251.4" r="1.7" fill="#fff" stroke="#4a6fc4" stroke-width="0.6"/>
<circle cx="556.5" cy="253.5" r="1.7" fill="#fff" stroke="#4a6fc4" stroke-width="0.6"/>
<circle cx="585.5" cy="257.7" r="1.7" fill="#fff" stroke="#4a6fc4" stroke-width="0.6"/>
<circle cx="581.3" cy="257.7" r="1.7" fill="#fff" stroke="#4a6fc4" stroke-width="0.6"/>
<circle cx="562.2" cy="260.9" r="1.7" fill="#fff" stroke="#4a6fc4" stroke-width="0.6"/>
<circle cx="576.0" cy="260.9" r="1.7" fill="#fff" stroke="#4a6fc4" stroke-width="0.6"/>
<circle cx="559.5" cy="268.9" r="1.7" fill="#fff" stroke="#4a6fc4" stroke-width="0.6"/>
<circle cx="556.9" cy="275.2" r="1.7" fill="#fff" stroke="#4a6fc4" stroke-width="0.6"/>
<circle cx="589.7" cy="279.0" r="1.7" fill="#fff" stroke="#4a6fc4" stroke-width="0.6"/>
<circle cx="556.5" cy="282.2" r="1.7" fill="#fff" stroke="#4a6fc4" stroke-width="0.6"/>
<circle cx="562.2" cy="284.3" r="1.7" fill="#fff" stroke="#4a6fc4" stroke-width="0.6"/>
<circle cx="561.2" cy="287.5" r="1.7" fill="#fff" stroke="#4a6fc4" stroke-width="0.6"/>
<circle cx="565.4" cy="288.0" r="1.7" fill="#fff" stroke="#4a6fc4" stroke-width="0.6"/>
<circle cx="562.9" cy="300.2" r="1.7" fill="#fff" stroke="#4a6fc4" stroke-width="0.6"/>
<circle cx="555.9" cy="304.0" r="1.7" fill="#fff" stroke="#4a6fc4" stroke-width="0.6"/>
<circle cx="561.2" cy="307.0" r="1.7" fill="#fff" stroke="#4a6fc4" stroke-width="0.6"/>
<circle cx="558.0" cy="317.1" r="1.7" fill="#fff" stroke="#4a6fc4" stroke-width="0.6"/>
<circle cx="564.3" cy="335.8" r="1.7" fill="#fff" stroke="#4a6fc4" stroke-width="0.6"/>
<text transform="translate(554.5,177.2) rotate(-90)" font-size="10" fill="#3d3da8" text-anchor="middle">Anoxia</text>
<text transform="translate(592.6,176.9) rotate(-90)" font-size="10" fill="#3d3da8" text-anchor="middle">Oxidation</text>
<text x="638.5" y="10.3" font-size="10.5" fill="#111" text-anchor="middle" >g</text>
<text x="638.9" y="29.0" font-size="10" fill="#4ab4d8" text-anchor="middle" >LST (℃)</text>
<line x1="607.8" y1="47.7" x2="670.8" y2="47.7" stroke="#7ccbe6" stroke-width="0.9" />
<line x1="607.8" y1="47.7" x2="607.8" y2="45.4" stroke="#7ccbe6" stroke-width="0.8" />
<line x1="623.5" y1="47.7" x2="623.5" y2="45.4" stroke="#7ccbe6" stroke-width="0.8" />
<line x1="639.2" y1="47.7" x2="639.2" y2="45.4" stroke="#7ccbe6" stroke-width="0.8" />
<line x1="654.8" y1="47.7" x2="654.8" y2="45.4" stroke="#7ccbe6" stroke-width="0.8" />
<line x1="670.8" y1="47.7" x2="670.8" y2="45.4" stroke="#7ccbe6" stroke-width="0.8" />
<text x="608.5" y="42" font-size="9" fill="#4ab4d8" text-anchor="middle" >0</text>
<text x="624" y="42" font-size="9" fill="#4ab4d8" text-anchor="middle" >5</text>
<text x="640" y="42" font-size="9" fill="#4ab4d8" text-anchor="middle" >10</text>
<text x="655.4" y="42" font-size="9" fill="#4ab4d8" text-anchor="middle" >15</text>
<text x="671.1" y="42" font-size="9" fill="#4ab4d8" text-anchor="middle" >20</text>
<line x1="601.7" y1="349.5" x2="668" y2="349.5" stroke="#3c3ca8" stroke-width="1.2" />
<polygon points="672,349.5 666,346.8 666,352.2" fill="#3c3ca8"/>
<text x="607.6" y="361.8" font-size="10.5" fill="#b04098">δ<tspan font-size="6" dy="-4">18</tspan><tspan dy="4">O decline</tspan></text>
<text x="639.0" y="374.7" font-size="10.6" fill="#4ab4d8" text-anchor="middle" >Temperature rise</text>
<polyline points="679.2,83.2 673.1,96.7 662.5,103.9 647.2,110.2 637.1,112.9 642.7,117.0 649.5,124.2 655.1,129.5 647.2,133.5 642.7,144.7 648.3,149.2 645.0,174.0 641.6,187.0 633.7,190.2 638.7,199.8 638.2,201.7 634.9,203.5 634.9,233.2 636.4,235.0 633.7,252.3 639.4,255.7 639.4,269.2 637.1,274.0 634.9,280.7 631.5,283.0 631.9,289.7 636.0,305.5 630.4,319.0 625.9,337.0" fill="none" stroke="#b04098" stroke-width="1.0"  stroke-linejoin="round" />
<polyline points="667.5,84.4 666.3,90.0 661.2,95.6 636.0,105.7 624.7,110.2 620.2,112.5 621.4,115.8 627.0,118.1 630.4,120.0 638.7,128.5 615.7,136.2 619.1,139.1 618.0,144.3 622.5,149.2 627.0,157.1 633.3,167.2 629.2,178.5 623.6,189.7 615.7,195.3 614.6,205.0 616.2,217.5 618.0,233.2 619.1,236.6 616.9,251.2 619.1,258.0 623.6,269.2 619.8,275.1 621.4,285.2 619.1,290.9 617.5,305.5 617.5,319.0 615.7,337.0" fill="none" stroke="#3aaed6" stroke-width="1.0"  stroke-linejoin="round" />
<polygon points="665.7,55.3 667.8,57.4 665.7,59.5 663.6,57.4" fill="none" stroke="#46b4da" stroke-width="0.75"/>
<polygon points="667.5,80.7 669.6,82.8 667.5,84.9 665.4,82.8" fill="none" stroke="#46b4da" stroke-width="0.75"/>
<polygon points="670.8,78.9 672.9,81.0 670.8,83.1 668.7,81.0" fill="none" stroke="#46b4da" stroke-width="0.75"/>
<polygon points="665.7,89.0 667.8,91.1 665.7,93.2 663.6,91.1" fill="none" stroke="#46b4da" stroke-width="0.75"/>
<polygon points="655.1,93.5 657.2,95.6 655.1,97.7 653.0,95.6" fill="none" stroke="#46b4da" stroke-width="0.75"/>
<polygon points="647.7,96.4 649.8,98.5 647.7,100.6 645.6,98.5" fill="none" stroke="#46b4da" stroke-width="0.75"/>
<polygon points="632.6,101.8 634.7,103.9 632.6,106.0 630.5,103.9" fill="none" stroke="#46b4da" stroke-width="0.75"/>
<polygon points="613.0,107.0 615.1,109.1 613.0,111.2 610.9,109.1" fill="none" stroke="#46b4da" stroke-width="0.75"/>
<polygon points="618.0,108.1 620.1,110.2 618.0,112.3 615.9,110.2" fill="none" stroke="#46b4da" stroke-width="0.75"/>
<polygon points="611.7,113.1 613.8,115.2 611.7,117.3 609.6,115.2" fill="none" stroke="#46b4da" stroke-width="0.75"/>
<polygon points="622.5,111.5 624.6,113.6 622.5,115.7 620.4,113.6" fill="none" stroke="#46b4da" stroke-width="0.75"/>
<polygon points="647.2,116.0 649.3,118.1 647.2,120.2 645.1,118.1" fill="none" stroke="#46b4da" stroke-width="0.75"/>
<polygon points="637.1,125.0 639.2,127.1 637.1,129.2 635.0,127.1" fill="none" stroke="#46b4da" stroke-width="0.75"/>
<polygon points="637.8,124.6 639.9,126.7 637.8,128.8 635.7,126.7" fill="none" stroke="#46b4da" stroke-width="0.75"/>
<polygon points="610.1,130.3 612.2,132.4 610.1,134.5 608.0,132.4" fill="none" stroke="#46b4da" stroke-width="0.75"/>
<polygon points="614.0,134.1 616.1,136.2 614.0,138.3 611.9,136.2" fill="none" stroke="#46b4da" stroke-width="0.75"/>
<polygon points="620.2,131.9 622.3,134.0 620.2,136.1 618.1,134.0" fill="none" stroke="#46b4da" stroke-width="0.75"/>
<polygon points="625.2,136.3 627.3,138.4 625.2,140.5 623.1,138.4" fill="none" stroke="#46b4da" stroke-width="0.75"/>
<polygon points="616.2,141.5 618.3,143.6 616.2,145.7 614.1,143.6" fill="none" stroke="#46b4da" stroke-width="0.75"/>
<polygon points="617.5,143.8 619.6,145.9 617.5,148.0 615.4,145.9" fill="none" stroke="#46b4da" stroke-width="0.75"/>
<polygon points="637.1,146.7 639.2,148.8 637.1,150.9 635.0,148.8" fill="none" stroke="#46b4da" stroke-width="0.75"/>
<polygon points="631.0,156.1 633.1,158.2 631.0,160.3 628.9,158.2" fill="none" stroke="#46b4da" stroke-width="0.75"/>
<polygon points="633.3,165.6 635.4,167.7 633.3,169.8 631.2,167.7" fill="none" stroke="#46b4da" stroke-width="0.75"/>
<polygon points="625.2,179.1 627.3,181.2 625.2,183.3 623.1,181.2" fill="none" stroke="#46b4da" stroke-width="0.75"/>
<polygon points="620.2,184.9 622.3,187.0 620.2,189.1 618.1,187.0" fill="none" stroke="#46b4da" stroke-width="0.75"/>
<polygon points="617.5,187.6 619.6,189.7 617.5,191.8 615.4,189.7" fill="none" stroke="#46b4da" stroke-width="0.75"/>
<polygon points="622.5,188.1 624.6,190.2 622.5,192.3 620.4,190.2" fill="none" stroke="#46b4da" stroke-width="0.75"/>
<polygon points="614.6,193.2 616.7,195.3 614.6,197.4 612.5,195.3" fill="none" stroke="#46b4da" stroke-width="0.75"/>
<polygon points="614.6,200.8 616.7,202.9 614.6,205.0 612.5,202.9" fill="none" stroke="#46b4da" stroke-width="0.75"/>
<polygon points="616.9,203.7 619.0,205.8 616.9,207.9 614.8,205.8" fill="none" stroke="#46b4da" stroke-width="0.75"/>
<polygon points="618.0,212.7 620.1,214.8 618.0,216.9 615.9,214.8" fill="none" stroke="#46b4da" stroke-width="0.75"/>
<polygon points="615.3,229.3 617.4,231.4 615.3,233.5 613.2,231.4" fill="none" stroke="#46b4da" stroke-width="0.75"/>
<polygon points="622.5,228.4 624.6,230.5 622.5,232.6 620.4,230.5" fill="none" stroke="#46b4da" stroke-width="0.75"/>
<polygon points="619.8,232.9 621.9,235.0 619.8,237.1 617.7,235.0" fill="none" stroke="#46b4da" stroke-width="0.75"/>
<polygon points="615.3,250.2 617.4,252.3 615.3,254.4 613.2,252.3" fill="none" stroke="#46b4da" stroke-width="0.75"/>
<polygon points="619.1,250.9 621.2,253.0 619.1,255.1 617.0,253.0" fill="none" stroke="#46b4da" stroke-width="0.75"/>
<polygon points="616.9,259.2 619.0,261.3 616.9,263.4 614.8,261.3" fill="none" stroke="#46b4da" stroke-width="0.75"/>
<polygon points="625.9,259.2 628.0,261.3 625.9,263.4 623.8,261.3" fill="none" stroke="#46b4da" stroke-width="0.75"/>
<polygon points="625.2,267.6 627.3,269.7 625.2,271.8 623.1,269.7" fill="none" stroke="#46b4da" stroke-width="0.75"/>
<polygon points="613.5,273.4 615.6,275.5 613.5,277.6 611.4,275.5" fill="none" stroke="#46b4da" stroke-width="0.75"/>
<polygon points="613.0,273.0 615.1,275.1 613.0,277.2 610.9,275.1" fill="none" stroke="#46b4da" stroke-width="0.75"/>
<polygon points="614.0,278.2 616.1,280.3 614.0,282.4 611.9,280.3" fill="none" stroke="#46b4da" stroke-width="0.75"/>
<polygon points="621.4,277.5 623.5,279.6 621.4,281.7 619.3,279.6" fill="none" stroke="#46b4da" stroke-width="0.75"/>
<polygon points="619.1,280.9 621.2,283.0 619.1,285.1 617.0,283.0" fill="none" stroke="#46b4da" stroke-width="0.75"/>
<polygon points="621.4,283.1 623.5,285.2 621.4,287.3 619.3,285.2" fill="none" stroke="#46b4da" stroke-width="0.75"/>
<polygon points="619.8,286.5 621.9,288.6 619.8,290.7 617.7,288.6" fill="none" stroke="#46b4da" stroke-width="0.75"/>
<polygon points="614.0,298.4 616.1,300.5 614.0,302.6 611.9,300.5" fill="none" stroke="#46b4da" stroke-width="0.75"/>
<polygon points="615.7,302.9 617.8,305.0 615.7,307.1 613.6,305.0" fill="none" stroke="#46b4da" stroke-width="0.75"/>
<polygon points="621.4,303.4 623.5,305.5 621.4,307.6 619.3,305.5" fill="none" stroke="#46b4da" stroke-width="0.75"/>
<polygon points="616.9,305.2 619.0,307.3 616.9,309.4 614.8,307.3" fill="none" stroke="#46b4da" stroke-width="0.75"/>
<polygon points="615.3,315.7 617.4,317.8 615.3,319.9 613.2,317.8" fill="none" stroke="#46b4da" stroke-width="0.75"/>
<polygon points="615.3,334.9 617.4,337.0 615.3,339.1 613.2,337.0" fill="none" stroke="#46b4da" stroke-width="0.75"/>
<text transform="translate(680.2,124.3) rotate(-90)" font-size="10.3" fill="#e2492f" text-anchor="middle" textLength="25.2" lengthAdjust="spacingAndGlyphs">LIP-II</text>
<text transform="translate(674.1,268.9) rotate(-90)" font-size="10.3" fill="#e2492f" text-anchor="middle" textLength="22.6" lengthAdjust="spacingAndGlyphs">LIP-I</text>
</svg>
</body></html>
